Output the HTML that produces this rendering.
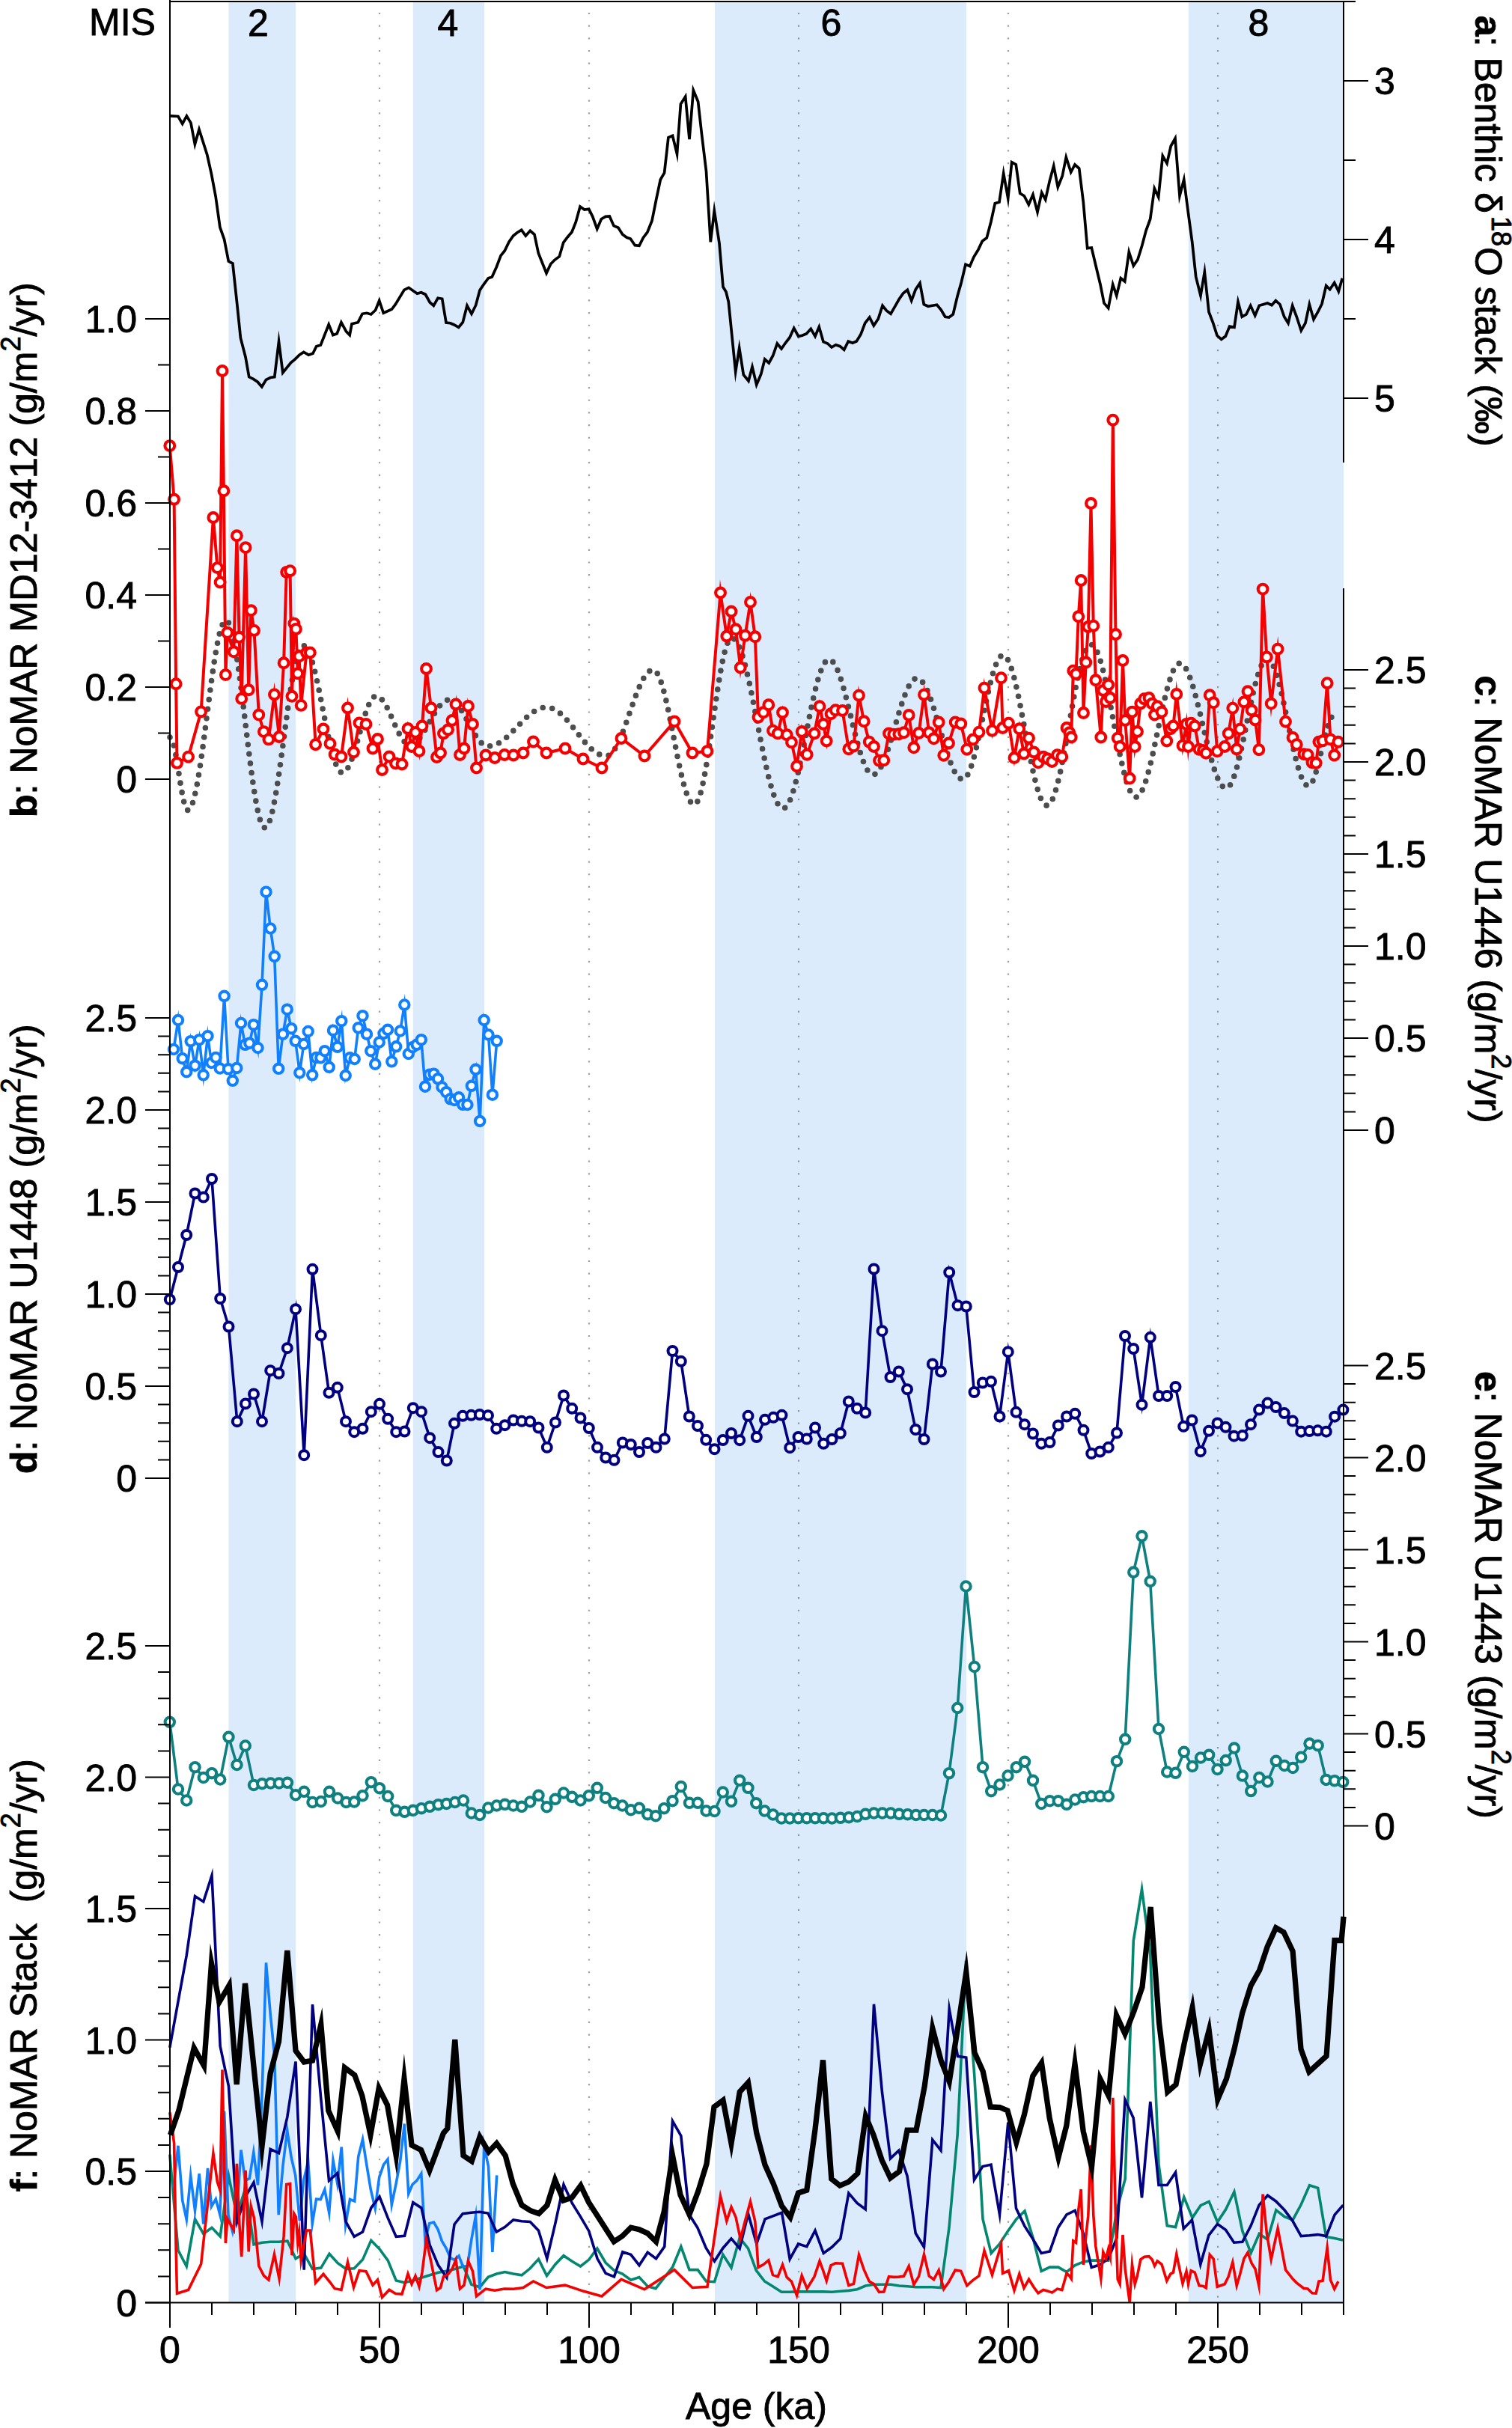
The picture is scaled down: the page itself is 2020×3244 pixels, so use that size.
<!DOCTYPE html>
<html><head><meta charset="utf-8"><style>html,body{margin:0;padding:0;background:#fff;width:2020px;height:3244px;overflow:hidden}svg{display:block;font-family:"Liberation Sans",sans-serif}</style></head>
<body><svg width="2020" height="3244" viewBox="0 0 2020 3244"><rect x="305.4" y="2" width="89.6" height="3074" fill="#dbebfc"/>
<rect x="551.8" y="2" width="95.2" height="3074" fill="#dbebfc"/>
<rect x="955.0" y="2" width="336.0" height="3074" fill="#dbebfc"/>
<rect x="1587.8" y="2" width="207.2" height="3074" fill="#dbebfc"/>
<line x1="507.0" y1="16.9" x2="507.0" y2="3076" stroke="#505050" stroke-opacity="0.55" stroke-width="2.2" stroke-dasharray="2.2 14.47"/>
<line x1="787.0" y1="16.9" x2="787.0" y2="3076" stroke="#505050" stroke-opacity="0.55" stroke-width="2.2" stroke-dasharray="2.2 14.47"/>
<line x1="1067.0" y1="16.9" x2="1067.0" y2="3076" stroke="#505050" stroke-opacity="0.55" stroke-width="2.2" stroke-dasharray="2.2 14.47"/>
<line x1="1347.0" y1="16.9" x2="1347.0" y2="3076" stroke="#505050" stroke-opacity="0.55" stroke-width="2.2" stroke-dasharray="2.2 14.47"/>
<line x1="1627.0" y1="16.9" x2="1627.0" y2="3076" stroke="#505050" stroke-opacity="0.55" stroke-width="2.2" stroke-dasharray="2.2 14.47"/>
<path d="M227.2,154.9 L238.0,155.5 L243.7,165.4 L249.4,154.9 L255.0,164.4 L260.4,192.8 L266.0,173.0 L276.8,207.0 L282.5,232.6 L288.2,263.0 L293.9,303.7 L299.6,319.8 L305.3,349.1 L310.9,352.0 L316.6,405.0 L321.4,451.5 L328.0,477.0 L332.7,503.6 L338.4,506.4 L344.1,510.2 L349.8,516.8 L355.5,507.4 L361.2,504.5 L366.8,503.6 L372.5,456.2 L377.8,497.9 L388.6,484.6 L394.3,479.9 L400.0,474.2 L405.7,470.4 L412.3,474.2 L418.0,472.3 L422.7,462.8 L428.4,460.9 L439.2,433.5 L444.9,447.7 L450.2,445.8 L455.9,430.6 L462.5,442.9 L467.2,447.7 L470.0,432.7 L478.3,430.7 L484.0,419.3 L490.0,418.3 L495.7,420.0 L501.7,414.3 L506.7,401.7 L512.3,418.3 L523.3,413.3 L528.3,406.7 L540.0,387.3 L546.0,384.3 L557.3,392.3 L562.7,390.7 L568.3,393.3 L574.3,404.0 L579.3,408.3 L585.0,398.3 L590.7,399.3 L596.0,431.0 L601.7,431.7 L606.7,434.0 L612.7,437.3 L618.3,430.7 L624.0,408.3 L630.0,419.3 L635.7,407.7 L641.0,387.7 L646.7,379.3 L652.3,371.7 L657.3,370.0 L663.3,356.7 L669.0,341.7 L674.3,335.0 L680.0,323.3 L685.7,315.0 L691.0,310.7 L696.7,307.3 L702.3,315.0 L708.3,308.3 L714.0,313.3 L719.3,338.3 L724.0,350.0 L730.0,365.0 L735.7,352.7 L741.0,347.3 L747.3,342.7 L752.7,324.0 L758.3,316.7 L764.0,310.0 L769.3,296.7 L775.0,276.0 L780.7,280.0 L786.7,279.3 L791.7,289.3 L797.7,306.0 L803.3,292.7 L809.0,289.3 L814.3,289.0 L820.0,301.7 L826.0,304.3 L831.7,313.3 L837.3,317.3 L842.3,319.0 L848.3,327.7 L854.0,328.3 L859.3,317.7 L865.0,310.0 L871.0,295.0 L876.7,266.7 L882.3,240.0 L887.6,231.0 L892.9,183.7 L898.5,181.3 L904.5,205.8 L909.4,139.0 L915.7,129.0 L921.0,186.0 L926.3,120.5 L932.6,135.7 L937.5,179.4 L943.5,229.0 L949.3,323.3 L954.3,281.7 L961.0,325.0 L966.0,383.3 L970.0,390.0 L973.3,403.3 L982.7,496.7 L987.7,465.0 L993.3,500.7 L1000.0,509.0 L1005.0,490.0 L1010.7,514.0 L1016.7,500.0 L1021.7,480.0 L1027.3,485.0 L1032.7,475.0 L1038.3,459.0 L1044.0,466.0 L1049.3,458.3 L1055.0,451.0 L1060.7,438.3 L1066.7,449.3 L1071.7,448.3 L1077.3,446.0 L1083.3,439.3 L1089.0,449.3 L1094.3,436.7 L1100.0,456.7 L1105.7,459.0 L1111.0,464.0 L1116.7,460.7 L1122.3,462.7 L1127.7,467.3 L1133.3,456.0 L1139.0,458.3 L1144.3,456.0 L1150.0,446.7 L1155.7,431.7 L1161.7,424.0 L1167.3,435.0 L1173.3,426.0 L1179.0,408.3 L1184.3,415.0 L1190.0,419.3 L1195.7,409.3 L1201.0,400.0 L1206.7,391.7 L1212.3,387.3 L1217.7,401.7 L1223.3,386.7 L1229.0,378.3 L1234.3,406.7 L1240.0,409.3 L1245.7,408.3 L1251.7,407.3 L1257.3,414.0 L1262.7,423.3 L1267.7,424.0 L1273.3,420.0 L1279.0,396.0 L1284.3,377.3 L1290.0,353.3 L1295.7,355.7 L1301.0,343.3 L1306.7,334.0 L1312.3,322.3 L1318.3,317.7 L1324.0,296.0 L1329.3,271.7 L1335.0,270.0 L1340.7,231.7 L1346.7,265.0 L1351.7,216.7 L1357.3,220.0 L1362.7,258.3 L1368.3,261.7 L1374.3,273.3 L1380.0,260.0 L1386.0,283.3 L1391.7,257.3 L1396.7,266.7 L1402.3,241.7 L1407.7,221.7 L1413.3,250.0 L1419.3,235.0 L1424.3,210.0 L1430.7,230.0 L1436.0,220.0 L1441.7,225.0 L1447.3,270.0 L1452.7,331.7 L1458.3,331.0 L1464.0,355.0 L1470.0,380.0 L1475.0,405.0 L1480.7,411.7 L1486.7,380.0 L1491.7,395.0 L1497.3,371.7 L1502.7,376.0 L1508.3,336.7 L1514.3,355.0 L1520.0,346.7 L1525.7,328.3 L1531.0,308.3 L1536.7,292.7 L1542.3,251.7 L1547.7,263.3 L1553.3,208.3 L1559.0,218.3 L1564.3,195.0 L1570.0,185.0 L1576.0,261.7 L1581.7,240.0 L1587.3,283.3 L1592.7,323.3 L1597.7,370.0 L1604.0,395.0 L1609.3,363.3 L1615.0,416.7 L1620.7,431.7 L1626.0,448.3 L1631.7,453.3 L1637.3,449.3 L1642.7,436.0 L1649.0,437.3 L1654.0,403.3 L1659.3,423.3 L1665.0,420.0 L1670.7,408.3 L1676.7,421.7 L1682.3,408.3 L1687.7,406.7 L1693.3,405.0 L1699.0,407.7 L1704.3,401.7 L1710.0,406.7 L1715.7,423.3 L1721.0,431.7 L1726.7,408.3 L1732.3,423.3 L1738.3,441.7 L1744.0,431.7 L1749.3,406.7 L1755.0,426.7 L1760.7,416.7 L1766.0,406.0 L1771.7,381.7 L1776.7,386.7 L1782.7,377.7 L1788.3,389.3 L1793.3,371.7" fill="none" stroke="#000" stroke-width="3.7" stroke-linejoin="miter" stroke-miterlimit="10"/>
<path d="M227.0,985.0 L228.0,985.4 L229.0,986.7 L230.0,988.7 L231.0,991.5 L232.0,995.1 L233.0,999.3 L234.0,1004.1 L235.0,1009.4 L236.0,1015.1 L237.0,1021.1 L238.0,1027.4 L239.0,1033.8 L240.0,1040.1 L241.0,1046.4 L242.0,1052.4 L243.0,1058.1 L244.0,1063.4 L245.0,1068.2 L246.0,1072.4 L247.0,1076.0 L248.0,1078.8 L249.0,1080.8 L250.0,1082.1 L251.0,1082.5 L252.0,1082.3 L253.0,1081.5 L254.0,1080.3 L255.0,1078.7 L256.0,1076.5 L257.0,1073.9 L258.0,1070.9 L259.0,1067.4 L260.0,1063.5 L261.0,1059.2 L262.0,1054.5 L263.0,1049.4 L264.0,1044.0 L265.0,1038.2 L266.0,1032.1 L267.0,1025.8 L268.0,1019.1 L269.0,1012.2 L270.0,1005.2 L271.0,997.9 L272.0,990.4 L273.0,982.9 L274.0,975.2 L275.0,967.4 L276.0,959.7 L277.0,951.8 L278.0,944.1 L279.0,936.3 L280.0,928.6 L281.0,921.1 L282.0,913.6 L283.0,906.3 L284.0,899.3 L285.0,892.4 L286.0,885.7 L287.0,879.4 L288.0,873.3 L289.0,867.5 L290.0,862.1 L291.0,857.0 L292.0,852.3 L293.0,848.0 L294.0,844.1 L295.0,840.6 L296.0,837.6 L297.0,835.0 L298.0,832.8 L299.0,831.2 L300.0,830.0 L301.0,829.2 L302.0,829.0 L303.0,829.3 L304.0,830.0 L305.0,831.3 L306.0,833.0 L307.0,835.3 L308.0,838.0 L309.0,841.2 L310.0,844.9 L311.0,849.0 L312.0,853.5 L313.0,858.5 L314.0,863.8 L315.0,869.6 L316.0,875.7 L317.0,882.1 L318.0,888.8 L319.0,895.8 L320.0,903.1 L321.0,910.7 L322.0,918.4 L323.0,926.3 L324.0,934.4 L325.0,942.5 L326.0,950.8 L327.0,959.1 L328.0,967.5 L329.0,975.9 L330.0,984.2 L331.0,992.5 L332.0,1000.6 L333.0,1008.7 L334.0,1016.6 L335.0,1024.3 L336.0,1031.9 L337.0,1039.2 L338.0,1046.2 L339.0,1052.9 L340.0,1059.3 L341.0,1065.4 L342.0,1071.2 L343.0,1076.5 L344.0,1081.5 L345.0,1086.0 L346.0,1090.1 L347.0,1093.8 L348.0,1097.0 L349.0,1099.7 L350.0,1102.0 L351.0,1103.7 L352.0,1105.0 L353.0,1105.7 L354.0,1106.0 L355.0,1105.8 L356.0,1105.1 L357.0,1103.9 L358.0,1102.3 L359.0,1100.3 L360.0,1097.8 L361.0,1094.9 L362.0,1091.5 L363.0,1087.8 L364.0,1083.6 L365.0,1079.1 L366.0,1074.2 L367.0,1069.0 L368.0,1063.5 L369.0,1057.6 L370.0,1051.5 L371.0,1045.1 L372.0,1038.5 L373.0,1031.7 L374.0,1024.7 L375.0,1017.6 L376.0,1010.3 L377.0,1002.9 L378.0,995.5 L379.0,988.0 L380.0,980.5 L381.0,973.0 L382.0,965.6 L383.0,958.2 L384.0,950.9 L385.0,943.8 L386.0,936.8 L387.0,930.0 L388.0,923.4 L389.0,917.0 L390.0,910.9 L391.0,905.0 L392.0,899.5 L393.0,894.3 L394.0,889.4 L395.0,884.9 L396.0,880.7 L397.0,877.0 L398.0,873.6 L399.0,870.7 L400.0,868.2 L401.0,866.2 L402.0,864.6 L403.0,863.4 L404.0,862.7 L405.0,862.5 L406.0,862.7 L407.0,863.1 L408.0,863.9 L409.0,865.0 L410.0,866.3 L411.1,868.0 L412.1,870.0 L413.1,872.2 L414.1,874.8 L415.1,877.5 L416.1,880.6 L417.1,883.9 L418.1,887.4 L419.1,891.1 L420.1,895.1 L421.2,899.2 L422.2,903.5 L423.2,908.0 L424.2,912.6 L425.2,917.4 L426.2,922.2 L427.2,927.2 L428.2,932.2 L429.2,937.3 L430.2,942.4 L431.2,947.5 L432.3,952.6 L433.3,957.7 L434.3,962.8 L435.3,967.8 L436.3,972.8 L437.3,977.6 L438.3,982.4 L439.3,987.0 L440.3,991.5 L441.3,995.8 L442.4,999.9 L443.4,1003.9 L444.4,1007.6 L445.4,1011.1 L446.4,1014.4 L447.4,1017.5 L448.4,1020.2 L449.4,1022.8 L450.4,1025.0 L451.4,1027.0 L452.5,1028.7 L453.5,1030.0 L454.5,1031.1 L455.5,1031.9 L456.5,1032.3 L457.5,1032.5 L458.5,1032.4 L459.5,1032.0 L460.5,1031.4 L461.5,1030.5 L462.5,1029.4 L463.5,1028.1 L464.5,1026.5 L465.5,1024.7 L466.5,1022.7 L467.5,1020.5 L468.5,1018.1 L469.5,1015.5 L470.5,1012.8 L471.5,1009.9 L472.5,1006.9 L473.5,1003.7 L474.5,1000.4 L475.5,997.1 L476.5,993.6 L477.5,990.1 L478.5,986.6 L479.5,983.0 L480.5,979.5 L481.5,975.9 L482.5,972.4 L483.5,968.9 L484.5,965.4 L485.5,962.1 L486.5,958.8 L487.5,955.6 L488.5,952.6 L489.5,949.7 L490.5,947.0 L491.5,944.4 L492.5,942.0 L493.5,939.8 L494.5,937.8 L495.5,936.0 L496.5,934.4 L497.5,933.1 L498.5,932.0 L499.5,931.1 L500.5,930.5 L501.5,930.1 L502.5,930.0 L503.5,930.1 L504.5,930.3 L505.5,930.7 L506.5,931.3 L507.5,932.0 L508.5,932.8 L509.5,933.8 L510.5,934.9 L511.5,936.2 L512.5,937.6 L513.5,939.1 L514.5,940.8 L515.5,942.5 L516.5,944.3 L517.5,946.2 L518.5,948.3 L519.5,950.3 L520.5,952.5 L521.5,954.6 L522.5,956.9 L523.5,959.1 L524.5,961.4 L525.5,963.6 L526.5,965.9 L527.5,968.1 L528.5,970.4 L529.5,972.5 L530.5,974.7 L531.5,976.7 L532.5,978.8 L533.5,980.7 L534.5,982.5 L535.5,984.2 L536.5,985.9 L537.5,987.4 L538.5,988.8 L539.5,990.1 L540.5,991.2 L541.5,992.2 L542.5,993.0 L543.5,993.7 L544.5,994.3 L545.5,994.7 L546.5,994.9 L547.5,995.0 L548.5,994.9 L549.5,994.8 L550.5,994.5 L551.5,994.1 L552.5,993.6 L553.6,993.1 L554.6,992.4 L555.6,991.6 L556.6,990.7 L557.6,989.7 L558.6,988.6 L559.6,987.5 L560.6,986.2 L561.6,984.9 L562.6,983.5 L563.7,982.0 L564.7,980.5 L565.7,978.9 L566.7,977.3 L567.7,975.6 L568.7,973.9 L569.7,972.2 L570.7,970.4 L571.7,968.6 L572.7,966.8 L573.8,965.0 L574.8,963.2 L575.8,961.4 L576.8,959.6 L577.8,957.8 L578.8,956.1 L579.8,954.4 L580.8,952.7 L581.8,951.1 L582.8,949.5 L583.8,948.0 L584.9,946.5 L585.9,945.1 L586.9,943.8 L587.9,942.5 L588.9,941.4 L589.9,940.3 L590.9,939.3 L591.9,938.4 L592.9,937.6 L593.9,936.9 L595.0,936.4 L596.0,935.9 L597.0,935.5 L598.0,935.2 L599.0,935.1 L600.0,935.0 L601.0,935.1 L602.0,935.2 L603.0,935.5 L604.0,935.9 L605.0,936.4 L606.0,937.0 L607.0,937.7 L608.0,938.6 L609.0,939.5 L610.0,940.5 L611.0,941.6 L612.0,942.8 L613.0,944.1 L614.0,945.4 L615.0,946.9 L616.0,948.4 L617.0,950.0 L618.0,951.6 L619.0,953.3 L620.0,955.0 L621.0,956.8 L622.0,958.6 L623.0,960.4 L624.0,962.3 L625.0,964.1 L626.0,966.0 L627.0,967.9 L628.0,969.7 L629.0,971.6 L630.0,973.4 L631.0,975.2 L632.0,977.0 L633.0,978.7 L634.0,980.4 L635.0,982.0 L636.0,983.6 L637.0,985.1 L638.0,986.6 L639.0,987.9 L640.0,989.2 L641.0,990.4 L642.0,991.5 L643.0,992.5 L644.0,993.4 L645.0,994.3 L646.0,995.0 L647.0,995.6 L648.0,996.1 L649.0,996.5 L650.0,996.8 L651.0,996.9 L652.0,997.0 L653.0,997.0 L654.0,996.9 L655.0,996.8 L656.0,996.7 L657.0,996.5 L658.0,996.2 L659.0,996.0 L660.0,995.7 L661.0,995.3 L662.0,994.9 L663.0,994.5 L664.0,994.0 L665.0,993.5 L666.0,993.0 L667.0,992.4 L668.0,991.8 L669.0,991.1 L670.0,990.5 L671.0,989.8 L672.0,989.0 L673.0,988.2 L674.0,987.4 L675.0,986.6 L676.0,985.8 L677.0,984.9 L678.0,984.0 L679.0,983.1 L680.0,982.1 L681.0,981.2 L682.0,980.2 L683.0,979.2 L684.0,978.2 L685.0,977.2 L686.0,976.2 L687.0,975.2 L688.0,974.1 L689.0,973.1 L690.0,972.0 L691.0,971.0 L692.0,970.0 L693.0,968.9 L694.0,967.9 L695.0,966.8 L696.0,965.8 L697.0,964.8 L698.0,963.8 L699.0,962.8 L700.0,961.8 L701.0,960.8 L702.0,959.9 L703.0,958.9 L704.0,958.0 L705.0,957.1 L706.0,956.2 L707.0,955.4 L708.0,954.6 L709.0,953.8 L710.0,953.0 L711.0,952.2 L712.0,951.5 L713.0,950.9 L714.0,950.2 L715.0,949.6 L716.0,949.0 L717.0,948.5 L718.0,948.0 L719.0,947.5 L720.0,947.1 L721.0,946.7 L722.0,946.3 L723.0,946.0 L724.0,945.8 L725.0,945.5 L726.0,945.3 L727.0,945.2 L728.0,945.1 L729.0,945.0 L730.0,945.0 L731.0,945.0 L732.0,945.1 L733.0,945.2 L734.0,945.4 L735.0,945.6 L736.0,945.9 L737.0,946.2 L738.0,946.6 L739.0,947.0 L740.0,947.5 L741.0,948.0 L742.0,948.5 L743.0,949.1 L744.0,949.8 L745.0,950.5 L746.0,951.2 L747.0,952.0 L748.0,952.8 L749.0,953.6 L750.0,954.5 L751.0,955.4 L752.0,956.4 L753.0,957.4 L754.0,958.4 L755.0,959.4 L756.0,960.5 L757.0,961.6 L758.0,962.7 L759.0,963.9 L760.0,965.1 L761.0,966.3 L762.0,967.5 L763.0,968.7 L764.0,969.9 L765.0,971.2 L766.0,972.4 L767.0,973.7 L768.0,975.0 L769.0,976.2 L770.0,977.5 L771.0,978.8 L772.0,980.0 L773.0,981.3 L774.0,982.6 L775.0,983.8 L776.0,985.1 L777.0,986.3 L778.0,987.5 L779.0,988.7 L780.0,989.9 L781.0,991.1 L782.0,992.3 L783.0,993.4 L784.0,994.5 L785.0,995.6 L786.0,996.6 L787.0,997.6 L788.0,998.6 L789.0,999.6 L790.0,1000.5 L791.0,1001.4 L792.0,1002.2 L793.0,1003.0 L794.0,1003.8 L795.0,1004.5 L796.0,1005.2 L797.0,1005.9 L798.0,1006.5 L799.0,1007.0 L800.0,1007.5 L801.0,1008.0 L802.0,1008.4 L803.0,1008.8 L804.0,1009.1 L805.0,1009.4 L806.0,1009.6 L807.0,1009.8 L808.0,1009.9 L809.0,1010.0 L810.0,1010.0 L811.0,1009.9 L812.0,1009.7 L813.0,1009.3 L814.0,1008.8 L815.0,1008.2 L816.0,1007.4 L817.1,1006.4 L818.1,1005.3 L819.1,1004.1 L820.1,1002.8 L821.1,1001.3 L822.1,999.7 L823.1,998.0 L824.1,996.1 L825.1,994.2 L826.1,992.1 L827.1,990.0 L828.1,987.7 L829.2,985.3 L830.2,982.9 L831.2,980.4 L832.2,977.8 L833.2,975.2 L834.2,972.5 L835.2,969.7 L836.2,966.9 L837.2,964.1 L838.2,961.2 L839.2,958.3 L840.2,955.4 L841.2,952.5 L842.3,949.6 L843.3,946.7 L844.3,943.8 L845.3,940.9 L846.3,938.1 L847.3,935.3 L848.3,932.5 L849.3,929.8 L850.3,927.2 L851.3,924.6 L852.3,922.1 L853.3,919.7 L854.4,917.3 L855.4,915.0 L856.4,912.9 L857.4,910.8 L858.4,908.9 L859.4,907.0 L860.4,905.3 L861.4,903.7 L862.4,902.2 L863.4,900.9 L864.4,899.7 L865.4,898.6 L866.5,897.6 L867.5,896.8 L868.5,896.2 L869.5,895.7 L870.5,895.3 L871.5,895.1 L872.5,895.0 L873.5,895.1 L874.5,895.6 L875.5,896.3 L876.5,897.3 L877.5,898.6 L878.5,900.2 L879.5,902.1 L880.5,904.2 L881.5,906.6 L882.5,909.3 L883.5,912.2 L884.5,915.3 L885.5,918.7 L886.5,922.3 L887.5,926.1 L888.5,930.0 L889.5,934.2 L890.5,938.5 L891.5,943.0 L892.5,947.6 L893.5,952.3 L894.5,957.2 L895.5,962.1 L896.5,967.1 L897.5,972.2 L898.5,977.3 L899.5,982.4 L900.5,987.6 L901.5,992.7 L902.5,997.8 L903.5,1002.9 L904.5,1007.9 L905.5,1012.8 L906.5,1017.7 L907.5,1022.4 L908.5,1027.0 L909.5,1031.5 L910.5,1035.8 L911.5,1040.0 L912.5,1043.9 L913.5,1047.7 L914.5,1051.3 L915.5,1054.7 L916.5,1057.8 L917.5,1060.7 L918.5,1063.4 L919.5,1065.8 L920.5,1067.9 L921.5,1069.8 L922.5,1071.4 L923.5,1072.7 L924.5,1073.7 L925.5,1074.4 L926.5,1074.9 L927.5,1075.0 L928.5,1074.8 L929.5,1074.1 L930.5,1073.0 L931.5,1071.5 L932.5,1069.6 L933.5,1067.2 L934.5,1064.4 L935.5,1061.2 L936.5,1057.7 L937.5,1053.8 L938.5,1049.5 L939.5,1044.8 L940.5,1039.9 L941.5,1034.7 L942.5,1029.1 L943.5,1023.4 L944.5,1017.3 L945.5,1011.1 L946.5,1004.7 L947.5,998.1 L948.5,991.4 L949.5,984.6 L950.5,977.7 L951.5,970.7 L952.5,963.8 L953.5,956.8 L954.5,949.8 L955.5,942.9 L956.5,936.1 L957.5,929.4 L958.5,922.8 L959.5,916.4 L960.5,910.2 L961.5,904.1 L962.5,898.4 L963.5,892.8 L964.5,887.6 L965.5,882.7 L966.5,878.0 L967.5,873.7 L968.5,869.8 L969.5,866.3 L970.5,863.1 L971.5,860.3 L972.5,857.9 L973.5,856.0 L974.5,854.5 L975.5,853.4 L976.5,852.7 L977.5,852.5 L978.5,852.6 L979.5,853.0 L980.5,853.6 L981.5,854.4 L982.6,855.5 L983.6,856.8 L984.6,858.4 L985.6,860.2 L986.6,862.2 L987.6,864.4 L988.6,866.9 L989.6,869.5 L990.6,872.4 L991.7,875.5 L992.7,878.7 L993.7,882.2 L994.7,885.8 L995.7,889.6 L996.7,893.6 L997.7,897.7 L998.7,902.0 L999.7,906.4 L1000.8,910.9 L1001.8,915.5 L1002.8,920.3 L1003.8,925.2 L1004.8,930.1 L1005.8,935.1 L1006.8,940.2 L1007.8,945.3 L1008.8,950.5 L1009.9,955.8 L1010.9,961.0 L1011.9,966.2 L1012.9,971.5 L1013.9,976.7 L1014.9,982.0 L1015.9,987.2 L1016.9,992.3 L1017.9,997.4 L1019.0,1002.4 L1020.0,1007.3 L1021.0,1012.2 L1022.0,1017.0 L1023.0,1021.6 L1024.0,1026.1 L1025.0,1030.5 L1026.0,1034.8 L1027.0,1038.9 L1028.1,1042.9 L1029.1,1046.7 L1030.1,1050.3 L1031.1,1053.8 L1032.1,1057.0 L1033.1,1060.1 L1034.1,1063.0 L1035.1,1065.6 L1036.1,1068.1 L1037.2,1070.3 L1038.2,1072.3 L1039.2,1074.1 L1040.2,1075.7 L1041.2,1077.0 L1042.2,1078.1 L1043.2,1078.9 L1044.2,1079.5 L1045.2,1079.9 L1046.2,1080.0 L1047.3,1079.9 L1048.3,1079.5 L1049.3,1078.8 L1050.3,1077.9 L1051.3,1076.7 L1052.3,1075.3 L1053.3,1073.6 L1054.3,1071.7 L1055.3,1069.5 L1056.3,1067.1 L1057.3,1064.5 L1058.3,1061.6 L1059.3,1058.5 L1060.3,1055.3 L1061.3,1051.8 L1062.3,1048.1 L1063.3,1044.3 L1064.3,1040.3 L1065.3,1036.1 L1066.3,1031.8 L1067.3,1027.3 L1068.3,1022.8 L1069.3,1018.1 L1070.3,1013.3 L1071.4,1008.4 L1072.4,1003.5 L1073.4,998.4 L1074.4,993.4 L1075.4,988.3 L1076.4,983.2 L1077.4,978.1 L1078.4,973.0 L1079.4,967.9 L1080.4,962.8 L1081.4,957.8 L1082.4,952.9 L1083.4,948.0 L1084.4,943.2 L1085.4,938.5 L1086.4,933.9 L1087.4,929.5 L1088.4,925.1 L1089.4,921.0 L1090.4,917.0 L1091.4,913.1 L1092.4,909.5 L1093.4,906.0 L1094.4,902.7 L1095.5,899.6 L1096.5,896.8 L1097.5,894.1 L1098.5,891.7 L1099.5,889.6 L1100.5,887.6 L1101.5,886.0 L1102.5,884.5 L1103.5,883.4 L1104.5,882.4 L1105.5,881.8 L1106.5,881.4 L1107.5,881.2 L1108.5,881.4 L1109.5,881.7 L1110.5,882.3 L1111.6,883.0 L1112.6,884.1 L1113.6,885.3 L1114.6,886.7 L1115.6,888.4 L1116.6,890.2 L1117.6,892.3 L1118.6,894.5 L1119.7,896.9 L1120.7,899.5 L1121.7,902.3 L1122.7,905.3 L1123.7,908.4 L1124.7,911.6 L1125.7,915.0 L1126.7,918.5 L1127.8,922.1 L1128.8,925.8 L1129.8,929.7 L1130.8,933.6 L1131.8,937.6 L1132.8,941.6 L1133.8,945.7 L1134.8,949.8 L1135.9,954.0 L1136.9,958.1 L1137.9,962.3 L1138.9,966.4 L1139.9,970.6 L1140.9,974.7 L1141.9,978.7 L1143.0,982.7 L1144.0,986.6 L1145.0,990.4 L1146.0,994.1 L1147.0,997.8 L1148.0,1001.3 L1149.0,1004.6 L1150.0,1007.9 L1151.1,1011.0 L1152.1,1013.9 L1153.1,1016.7 L1154.1,1019.3 L1155.1,1021.8 L1156.1,1024.0 L1157.1,1026.0 L1158.1,1027.9 L1159.2,1029.5 L1160.2,1031.0 L1161.2,1032.2 L1162.2,1033.2 L1163.2,1034.0 L1164.2,1034.5 L1165.2,1034.9 L1166.2,1035.0 L1167.3,1034.9 L1168.3,1034.6 L1169.3,1034.2 L1170.3,1033.5 L1171.3,1032.7 L1172.3,1031.6 L1173.3,1030.4 L1174.4,1029.1 L1175.4,1027.5 L1176.4,1025.8 L1177.4,1023.9 L1178.4,1021.9 L1179.4,1019.7 L1180.4,1017.4 L1181.4,1014.9 L1182.5,1012.3 L1183.5,1009.6 L1184.5,1006.8 L1185.5,1003.8 L1186.5,1000.8 L1187.5,997.7 L1188.5,994.5 L1189.5,991.2 L1190.6,987.8 L1191.6,984.5 L1192.6,981.0 L1193.6,977.6 L1194.6,974.1 L1195.6,970.6 L1196.6,967.1 L1197.7,963.7 L1198.7,960.2 L1199.7,956.8 L1200.7,953.4 L1201.7,950.1 L1202.7,946.8 L1203.7,943.6 L1204.7,940.5 L1205.8,937.4 L1206.8,934.5 L1207.8,931.7 L1208.8,928.9 L1209.8,926.4 L1210.8,923.9 L1211.8,921.6 L1212.8,919.4 L1213.9,917.3 L1214.9,915.5 L1215.9,913.7 L1216.9,912.2 L1217.9,910.8 L1218.9,909.6 L1219.9,908.6 L1220.9,907.8 L1222.0,907.1 L1223.0,906.6 L1224.0,906.3 L1225.0,906.2 L1226.0,906.3 L1227.0,906.6 L1228.0,907.1 L1229.0,907.7 L1230.0,908.5 L1231.0,909.4 L1232.0,910.6 L1233.0,911.9 L1234.0,913.4 L1235.0,915.0 L1236.0,916.8 L1237.0,918.7 L1238.1,920.8 L1239.1,923.0 L1240.1,925.4 L1241.1,927.9 L1242.1,930.5 L1243.1,933.2 L1244.1,936.1 L1245.1,939.0 L1246.1,942.0 L1247.1,945.1 L1248.1,948.3 L1249.1,951.6 L1250.1,954.9 L1251.1,958.2 L1252.1,961.6 L1253.1,965.1 L1254.1,968.5 L1255.1,972.0 L1256.1,975.5 L1257.1,979.0 L1258.1,982.4 L1259.1,985.9 L1260.1,989.3 L1261.1,992.6 L1262.2,995.9 L1263.2,999.2 L1264.2,1002.4 L1265.2,1005.5 L1266.2,1008.5 L1267.2,1011.4 L1268.2,1014.3 L1269.2,1017.0 L1270.2,1019.6 L1271.2,1022.1 L1272.2,1024.5 L1273.2,1026.7 L1274.2,1028.8 L1275.2,1030.7 L1276.2,1032.5 L1277.2,1034.1 L1278.2,1035.6 L1279.2,1036.9 L1280.2,1038.1 L1281.2,1039.0 L1282.2,1039.8 L1283.2,1040.4 L1284.2,1040.9 L1285.2,1041.2 L1286.2,1041.2 L1287.3,1041.1 L1288.3,1040.7 L1289.3,1039.9 L1290.3,1038.9 L1291.3,1037.6 L1292.3,1036.1 L1293.3,1034.2 L1294.4,1032.1 L1295.4,1029.7 L1296.4,1027.1 L1297.4,1024.2 L1298.4,1021.2 L1299.4,1017.8 L1300.4,1014.3 L1301.5,1010.6 L1302.5,1006.7 L1303.5,1002.6 L1304.5,998.4 L1305.5,994.0 L1306.5,989.5 L1307.5,984.9 L1308.6,980.2 L1309.6,975.4 L1310.6,970.6 L1311.6,965.7 L1312.6,960.8 L1313.6,955.9 L1314.6,951.0 L1315.7,946.1 L1316.7,941.3 L1317.7,936.5 L1318.7,931.8 L1319.7,927.2 L1320.7,922.7 L1321.7,918.4 L1322.8,914.1 L1323.8,910.1 L1324.8,906.2 L1325.8,902.4 L1326.8,898.9 L1327.8,895.6 L1328.8,892.5 L1329.9,889.6 L1330.9,887.0 L1331.9,884.6 L1332.9,882.5 L1333.9,880.7 L1334.9,879.1 L1335.9,877.8 L1337.0,876.8 L1338.0,876.1 L1339.0,875.6 L1340.0,875.5 L1341.0,875.6 L1342.0,876.1 L1343.0,876.8 L1344.1,877.8 L1345.1,879.2 L1346.1,880.8 L1347.1,882.6 L1348.1,884.8 L1349.1,887.2 L1350.1,889.9 L1351.1,892.8 L1352.2,896.0 L1353.2,899.4 L1354.2,903.0 L1355.2,906.8 L1356.2,910.9 L1357.2,915.1 L1358.2,919.5 L1359.2,924.1 L1360.3,928.9 L1361.3,933.7 L1362.3,938.7 L1363.3,943.8 L1364.3,949.0 L1365.3,954.3 L1366.3,959.6 L1367.3,965.0 L1368.4,970.4 L1369.4,975.9 L1370.4,981.3 L1371.4,986.7 L1372.4,992.1 L1373.4,997.5 L1374.4,1002.7 L1375.5,1007.9 L1376.5,1013.0 L1377.5,1018.0 L1378.5,1022.9 L1379.5,1027.6 L1380.5,1032.2 L1381.5,1036.6 L1382.5,1040.9 L1383.6,1044.9 L1384.6,1048.7 L1385.6,1052.4 L1386.6,1055.8 L1387.6,1059.0 L1388.6,1061.9 L1389.6,1064.6 L1390.6,1067.0 L1391.7,1069.1 L1392.7,1071.0 L1393.7,1072.6 L1394.7,1073.9 L1395.7,1074.9 L1396.7,1075.7 L1397.7,1076.1 L1398.8,1076.2 L1399.8,1076.1 L1400.8,1075.6 L1401.8,1074.8 L1402.8,1073.7 L1403.8,1072.3 L1404.8,1070.6 L1405.8,1068.6 L1406.9,1066.3 L1407.9,1063.7 L1408.9,1060.9 L1409.9,1057.7 L1410.9,1054.3 L1411.9,1050.7 L1412.9,1046.8 L1413.9,1042.7 L1415.0,1038.3 L1416.0,1033.8 L1417.0,1029.1 L1418.0,1024.2 L1419.0,1019.1 L1420.0,1013.9 L1421.0,1008.5 L1422.0,1003.1 L1423.1,997.5 L1424.1,991.9 L1425.1,986.1 L1426.1,980.4 L1427.1,974.6 L1428.1,968.8 L1429.1,962.9 L1430.2,957.1 L1431.2,951.4 L1432.2,945.6 L1433.2,940.0 L1434.2,934.4 L1435.2,929.0 L1436.2,923.6 L1437.2,918.4 L1438.3,913.3 L1439.3,908.4 L1440.3,903.7 L1441.3,899.2 L1442.3,894.8 L1443.3,890.7 L1444.3,886.8 L1445.3,883.2 L1446.4,879.8 L1447.4,876.6 L1448.4,873.8 L1449.4,871.2 L1450.4,868.9 L1451.4,866.9 L1452.4,865.2 L1453.4,863.8 L1454.5,862.7 L1455.5,861.9 L1456.5,861.4 L1457.5,861.2 L1458.5,861.4 L1459.5,861.8 L1460.5,862.5 L1461.5,863.5 L1462.5,864.7 L1463.5,866.2 L1464.5,868.0 L1465.5,870.1 L1466.5,872.4 L1467.5,874.9 L1468.5,877.7 L1469.5,880.7 L1470.5,884.0 L1471.5,887.4 L1472.5,891.1 L1473.5,895.0 L1474.5,899.0 L1475.5,903.2 L1476.5,907.6 L1477.5,912.2 L1478.5,916.9 L1479.5,921.7 L1480.5,926.6 L1481.5,931.6 L1482.5,936.8 L1483.5,941.9 L1484.5,947.2 L1485.5,952.5 L1486.5,957.8 L1487.5,963.1 L1488.5,968.5 L1489.5,973.8 L1490.5,979.1 L1491.5,984.3 L1492.5,989.5 L1493.5,994.6 L1494.5,999.6 L1495.5,1004.6 L1496.5,1009.4 L1497.5,1014.1 L1498.5,1018.6 L1499.5,1023.0 L1500.5,1027.2 L1501.5,1031.3 L1502.5,1035.2 L1503.5,1038.8 L1504.5,1042.3 L1505.5,1045.5 L1506.5,1048.6 L1507.5,1051.4 L1508.5,1053.9 L1509.5,1056.2 L1510.5,1058.2 L1511.5,1060.0 L1512.5,1061.5 L1513.5,1062.8 L1514.5,1063.7 L1515.5,1064.4 L1516.5,1064.9 L1517.5,1065.0 L1518.5,1064.9 L1519.5,1064.5 L1520.5,1063.8 L1521.6,1062.9 L1522.6,1061.7 L1523.6,1060.3 L1524.6,1058.7 L1525.6,1056.7 L1526.6,1054.6 L1527.6,1052.2 L1528.6,1049.6 L1529.7,1046.8 L1530.7,1043.7 L1531.7,1040.5 L1532.7,1037.1 L1533.7,1033.5 L1534.7,1029.7 L1535.7,1025.8 L1536.7,1021.7 L1537.8,1017.5 L1538.8,1013.2 L1539.8,1008.7 L1540.8,1004.2 L1541.8,999.5 L1542.8,994.8 L1543.8,990.1 L1544.8,985.3 L1545.9,980.5 L1546.9,975.6 L1547.9,970.8 L1548.9,966.0 L1549.9,961.2 L1550.9,956.4 L1551.9,951.7 L1553.0,947.1 L1554.0,942.5 L1555.0,938.1 L1556.0,933.8 L1557.0,929.5 L1558.0,925.5 L1559.0,921.5 L1560.0,917.8 L1561.1,914.2 L1562.1,910.7 L1563.1,907.5 L1564.1,904.5 L1565.1,901.7 L1566.1,899.0 L1567.1,896.7 L1568.1,894.5 L1569.2,892.6 L1570.2,890.9 L1571.2,889.5 L1572.2,888.3 L1573.2,887.4 L1574.2,886.8 L1575.2,886.4 L1576.2,886.2 L1577.3,886.4 L1578.3,886.7 L1579.3,887.2 L1580.3,888.0 L1581.3,889.0 L1582.3,890.2 L1583.3,891.6 L1584.3,893.2 L1585.4,895.0 L1586.4,897.1 L1587.4,899.3 L1588.4,901.7 L1589.4,904.2 L1590.4,907.0 L1591.4,909.9 L1592.4,913.0 L1593.5,916.2 L1594.5,919.6 L1595.5,923.1 L1596.5,926.7 L1597.5,930.4 L1598.5,934.3 L1599.5,938.2 L1600.5,942.2 L1601.6,946.3 L1602.6,950.5 L1603.6,954.7 L1604.6,958.9 L1605.6,963.2 L1606.6,967.5 L1607.6,971.8 L1608.6,976.1 L1609.7,980.3 L1610.7,984.6 L1611.7,988.8 L1612.7,992.9 L1613.7,997.0 L1614.7,1001.0 L1615.7,1005.0 L1616.7,1008.8 L1617.8,1012.5 L1618.8,1016.2 L1619.8,1019.7 L1620.8,1023.0 L1621.8,1026.3 L1622.8,1029.3 L1623.8,1032.3 L1624.8,1035.0 L1625.9,1037.6 L1626.9,1040.0 L1627.9,1042.2 L1628.9,1044.2 L1629.9,1046.0 L1630.9,1047.6 L1631.9,1049.1 L1632.9,1050.3 L1634.0,1051.2 L1635.0,1052.0 L1636.0,1052.6 L1637.0,1052.9 L1638.0,1053.0 L1639.0,1052.9 L1640.0,1052.4 L1641.0,1051.7 L1642.0,1050.8 L1643.0,1049.5 L1644.0,1048.0 L1645.0,1046.2 L1646.0,1044.2 L1647.0,1041.9 L1648.0,1039.3 L1649.0,1036.6 L1650.0,1033.6 L1651.0,1030.3 L1652.0,1026.9 L1653.0,1023.3 L1654.0,1019.5 L1655.0,1015.5 L1656.0,1011.4 L1657.0,1007.1 L1658.0,1002.7 L1659.0,998.1 L1660.0,993.5 L1661.0,988.8 L1662.0,984.0 L1663.0,979.2 L1664.0,974.3 L1665.0,969.4 L1666.0,964.4 L1667.0,959.5 L1668.0,954.6 L1669.0,949.8 L1670.0,945.0 L1671.0,940.3 L1672.0,935.7 L1673.0,931.1 L1674.0,926.7 L1675.0,922.4 L1676.0,918.3 L1677.0,914.3 L1678.0,910.5 L1679.0,906.9 L1680.0,903.5 L1681.0,900.2 L1682.0,897.2 L1683.0,894.5 L1684.0,891.9 L1685.0,889.6 L1686.0,887.6 L1687.0,885.8 L1688.0,884.3 L1689.0,883.0 L1690.0,882.1 L1691.0,881.4 L1692.0,880.9 L1693.0,880.8 L1694.0,880.9 L1695.0,881.4 L1696.0,882.0 L1697.0,883.0 L1698.0,884.2 L1699.0,885.7 L1700.0,887.5 L1701.0,889.5 L1702.0,891.7 L1703.0,894.2 L1704.0,897.0 L1705.0,899.9 L1706.0,903.1 L1707.0,906.4 L1708.0,910.0 L1709.0,913.7 L1710.0,917.6 L1711.0,921.7 L1712.0,925.9 L1713.0,930.3 L1714.0,934.7 L1715.0,939.3 L1716.0,943.9 L1717.0,948.6 L1718.0,953.4 L1719.0,958.2 L1720.0,963.0 L1721.0,967.8 L1722.0,972.6 L1723.0,977.4 L1724.0,982.2 L1725.0,986.9 L1726.0,991.5 L1727.0,996.1 L1728.0,1000.5 L1729.0,1004.9 L1730.0,1009.1 L1731.0,1013.2 L1732.0,1017.1 L1733.0,1020.8 L1734.0,1024.4 L1735.0,1027.7 L1736.0,1030.9 L1737.0,1033.8 L1738.0,1036.6 L1739.0,1039.1 L1740.0,1041.3 L1741.0,1043.3 L1742.0,1045.1 L1743.0,1046.6 L1744.0,1047.8 L1745.0,1048.8 L1746.0,1049.4 L1747.0,1049.9 L1748.0,1050.0 L1749.0,1049.8 L1750.0,1049.2 L1751.0,1048.3 L1752.0,1047.0 L1753.0,1045.3 L1754.0,1043.3 L1755.0,1040.9 L1756.0,1038.3 L1757.0,1035.3 L1758.0,1032.1 L1759.0,1028.7 L1760.0,1025.0 L1761.0,1021.2 L1762.0,1017.2 L1763.0,1013.1 L1764.0,1008.9 L1765.0,1004.6 L1766.0,1000.4 L1767.0,996.1 L1768.0,991.9 L1769.0,987.8 L1770.0,983.8 L1771.0,980.0 L1772.0,976.3 L1773.0,972.9 L1774.0,969.7 L1775.0,966.7 L1776.0,964.1 L1777.0,961.7 L1778.0,959.7 L1779.0,958.0 L1780.0,956.7 L1781.0,955.8 L1782.0,955.2 L1783.0,955.0" fill="none" stroke="#4d4d4d" stroke-width="7.6" stroke-linecap="round" stroke-dasharray="0 12.7" stroke-linejoin="round"/>
<path d="M226.8,595.6 L232.6,667.2 L235.1,913.8 L236.5,1019.4 L251.6,1011.2 L268.6,950.9 L284.9,691.5 L290.4,758.6 L294.1,778.0 L297.0,495.5 L298.9,655.8 L301.4,901.6 L303.8,845.3 L312.3,870.8 L316.4,715.8 L319.6,851.3 L322.7,933.4 L328.1,731.6 L332.2,921.8 L335.4,815.6 L339.5,842.4 L345.8,955.1 L352.4,977.6 L358.9,987.9 L366.5,927.9 L373.0,984.5 L379.1,885.8 L382.7,764.4 L387.6,762.7 L390.0,930.3 L392.9,833.1 L395.4,840.4 L397.8,899.9 L399.7,876.8 L402.2,942.4 L409.5,872.0 L414.3,872.0 L421.6,994.7 L432.0,974.0 L441.0,993.4 L447.1,1008.0 L456.0,1011.0 L464.5,946.0 L472.5,1005.0 L480.0,966.0 L489.0,967.5 L498.0,1000.0 L504.5,987.5 L510.5,1028.5 L520.0,1011.0 L528.5,1020.0 L537.0,1021.0 L545.0,973.5 L550.0,997.5 L555.0,978.5 L560.0,1003.5 L564.0,970.0 L569.5,893.5 L576.0,946.0 L583.5,1011.5 L588.5,1006.0 L592.5,980.0 L598.5,975.0 L604.0,962.5 L609.0,941.0 L614.5,1008.5 L620.0,1000.0 L625.5,943.5 L631.5,967.5 L636.5,1026.0 L649.0,1009.0 L661.0,1012.5 L674.0,1008.5 L686.0,1009.0 L699.0,1006.0 L712.5,991.0 L730.0,1006.0 L755.0,1000.0 L779.0,1014.0 L804.0,1026.0 L830.0,986.5 L861.0,1010.0 L901.0,964.0 L925.0,1006.0 L945.0,1003.6 L962.5,792.0 L970.8,850.0 L977.0,817.0 L983.0,840.8 L989.2,892.0 L995.5,849.2 L1002.5,804.5 L1008.8,850.8 L1013.0,958.2 L1020.0,951.8 L1026.8,941.8 L1032.5,976.2 L1039.2,980.0 L1045.5,952.0 L1051.2,981.8 L1057.5,991.8 L1064.5,1023.8 L1071.2,977.5 L1078.2,1008.2 L1088.0,980.0 L1095.0,943.8 L1100.0,967.5 L1104.2,990.0 L1110.0,953.8 L1116.2,948.8 L1125.5,949.5 L1133.8,1000.8 L1140.5,997.0 L1147.5,929.2 L1154.2,963.8 L1161.2,991.2 L1167.5,997.5 L1174.5,1016.2 L1180.8,1015.8 L1187.5,980.0 L1193.8,981.2 L1200.8,980.8 L1207.5,978.8 L1214.2,955.5 L1220.8,998.8 L1227.5,979.5 L1234.5,928.2 L1241.2,978.8 L1247.5,986.8 L1254.2,965.0 L1260.8,1009.2 L1267.5,993.0 L1276.2,965.0 L1283.8,967.0 L1291.8,1001.2 L1300.0,988.0 L1308.0,978.2 L1315.0,919.2 L1325.5,976.2 L1337.5,905.8 L1339.5,972.5 L1347.5,966.2 L1355.0,1012.5 L1361.8,973.8 L1368.0,1007.0 L1374.5,986.2 L1381.2,1005.0 L1387.0,1018.8 L1393.8,1011.2 L1399.5,1013.8 L1405.5,1017.5 L1412.5,1008.8 L1418.8,1011.2 L1425.0,972.5 L1428.8,978.8 L1431.2,985.0 L1433.8,896.2 L1437.5,900.5 L1440.8,823.8 L1444.2,775.5 L1447.5,952.5 L1450.8,885.0 L1453.8,837.5 L1457.5,672.5 L1460.8,836.2 L1463.8,908.8 L1470.8,985.0 L1473.8,922.5 L1477.5,937.5 L1480.8,915.0 L1483.2,932.5 L1486.8,561.2 L1490.5,847.5 L1493.2,986.2 L1496.2,997.5 L1500.0,882.5 L1503.2,962.5 L1509.2,1040.0 L1512.5,951.2 L1516.2,997.5 L1519.5,977.5 L1523.8,940.0 L1528.8,933.8 L1535.0,932.5 L1539.2,940.0 L1542.5,955.0 L1546.2,943.8 L1552.0,951.2 L1558.8,990.0 L1563.8,973.8 L1567.5,970.0 L1571.8,927.5 L1580.0,996.2 L1585.0,967.5 L1587.5,997.5 L1591.2,966.2 L1596.2,970.0 L1602.0,1001.2 L1607.5,1002.5 L1611.2,1006.2 L1616.2,928.8 L1621.2,938.8 L1626.2,1003.8 L1636.2,997.5 L1641.2,980.0 L1646.8,946.2 L1652.2,1001.0 L1656.7,974.2 L1661.9,937.9 L1667.0,923.8 L1672.2,949.0 L1677.0,962.0 L1681.9,1001.7 L1687.1,787.1 L1692.3,877.9 L1698.2,940.1 L1707.1,867.2 L1717.5,964.2 L1727.1,985.4 L1732.3,994.7 L1741.9,1007.6 L1747.1,1008.4 L1753.0,1018.7 L1758.2,1019.5 L1761.9,991.3 L1767.1,989.8 L1773.1,912.7 L1777.5,987.9 L1782.7,1009.1 L1787.9,991.3" fill="none" stroke="#f50000" stroke-width="4.0" stroke-linejoin="miter" stroke-miterlimit="10"/>
<g fill="#fff" stroke="#f50000" stroke-width="4.1"><circle cx="226.8" cy="595.6" r="6.4"/><circle cx="232.6" cy="667.2" r="6.4"/><circle cx="235.1" cy="913.8" r="6.4"/><circle cx="236.5" cy="1019.4" r="6.4"/><circle cx="251.6" cy="1011.2" r="6.4"/><circle cx="268.6" cy="950.9" r="6.4"/><circle cx="284.9" cy="691.5" r="6.4"/><circle cx="290.4" cy="758.6" r="6.4"/><circle cx="294.1" cy="778.0" r="6.4"/><circle cx="297.0" cy="495.5" r="6.4"/><circle cx="298.9" cy="655.8" r="6.4"/><circle cx="301.4" cy="901.6" r="6.4"/><circle cx="303.8" cy="845.3" r="6.4"/><circle cx="312.3" cy="870.8" r="6.4"/><circle cx="316.4" cy="715.8" r="6.4"/><circle cx="319.6" cy="851.3" r="6.4"/><circle cx="322.7" cy="933.4" r="6.4"/><circle cx="328.1" cy="731.6" r="6.4"/><circle cx="332.2" cy="921.8" r="6.4"/><circle cx="335.4" cy="815.6" r="6.4"/><circle cx="339.5" cy="842.4" r="6.4"/><circle cx="345.8" cy="955.1" r="6.4"/><circle cx="352.4" cy="977.6" r="6.4"/><circle cx="358.9" cy="987.9" r="6.4"/><circle cx="366.5" cy="927.9" r="6.4"/><circle cx="373.0" cy="984.5" r="6.4"/><circle cx="379.1" cy="885.8" r="6.4"/><circle cx="382.7" cy="764.4" r="6.4"/><circle cx="387.6" cy="762.7" r="6.4"/><circle cx="390.0" cy="930.3" r="6.4"/><circle cx="392.9" cy="833.1" r="6.4"/><circle cx="395.4" cy="840.4" r="6.4"/><circle cx="397.8" cy="899.9" r="6.4"/><circle cx="399.7" cy="876.8" r="6.4"/><circle cx="402.2" cy="942.4" r="6.4"/><circle cx="409.5" cy="872.0" r="6.4"/><circle cx="414.3" cy="872.0" r="6.4"/><circle cx="421.6" cy="994.7" r="6.4"/><circle cx="432.0" cy="974.0" r="6.4"/><circle cx="441.0" cy="993.4" r="6.4"/><circle cx="447.1" cy="1008.0" r="6.4"/><circle cx="456.0" cy="1011.0" r="6.4"/><circle cx="464.5" cy="946.0" r="6.4"/><circle cx="472.5" cy="1005.0" r="6.4"/><circle cx="480.0" cy="966.0" r="6.4"/><circle cx="489.0" cy="967.5" r="6.4"/><circle cx="498.0" cy="1000.0" r="6.4"/><circle cx="504.5" cy="987.5" r="6.4"/><circle cx="510.5" cy="1028.5" r="6.4"/><circle cx="520.0" cy="1011.0" r="6.4"/><circle cx="528.5" cy="1020.0" r="6.4"/><circle cx="537.0" cy="1021.0" r="6.4"/><circle cx="545.0" cy="973.5" r="6.4"/><circle cx="550.0" cy="997.5" r="6.4"/><circle cx="555.0" cy="978.5" r="6.4"/><circle cx="560.0" cy="1003.5" r="6.4"/><circle cx="564.0" cy="970.0" r="6.4"/><circle cx="569.5" cy="893.5" r="6.4"/><circle cx="576.0" cy="946.0" r="6.4"/><circle cx="583.5" cy="1011.5" r="6.4"/><circle cx="588.5" cy="1006.0" r="6.4"/><circle cx="592.5" cy="980.0" r="6.4"/><circle cx="598.5" cy="975.0" r="6.4"/><circle cx="604.0" cy="962.5" r="6.4"/><circle cx="609.0" cy="941.0" r="6.4"/><circle cx="614.5" cy="1008.5" r="6.4"/><circle cx="620.0" cy="1000.0" r="6.4"/><circle cx="625.5" cy="943.5" r="6.4"/><circle cx="631.5" cy="967.5" r="6.4"/><circle cx="636.5" cy="1026.0" r="6.4"/><circle cx="649.0" cy="1009.0" r="6.4"/><circle cx="661.0" cy="1012.5" r="6.4"/><circle cx="674.0" cy="1008.5" r="6.4"/><circle cx="686.0" cy="1009.0" r="6.4"/><circle cx="699.0" cy="1006.0" r="6.4"/><circle cx="712.5" cy="991.0" r="6.4"/><circle cx="730.0" cy="1006.0" r="6.4"/><circle cx="755.0" cy="1000.0" r="6.4"/><circle cx="779.0" cy="1014.0" r="6.4"/><circle cx="804.0" cy="1026.0" r="6.4"/><circle cx="830.0" cy="986.5" r="6.4"/><circle cx="861.0" cy="1010.0" r="6.4"/><circle cx="901.0" cy="964.0" r="6.4"/><circle cx="925.0" cy="1006.0" r="6.4"/><circle cx="945.0" cy="1003.6" r="6.4"/><circle cx="962.5" cy="792.0" r="6.4"/><circle cx="970.8" cy="850.0" r="6.4"/><circle cx="977.0" cy="817.0" r="6.4"/><circle cx="983.0" cy="840.8" r="6.4"/><circle cx="989.2" cy="892.0" r="6.4"/><circle cx="995.5" cy="849.2" r="6.4"/><circle cx="1002.5" cy="804.5" r="6.4"/><circle cx="1008.8" cy="850.8" r="6.4"/><circle cx="1013.0" cy="958.2" r="6.4"/><circle cx="1020.0" cy="951.8" r="6.4"/><circle cx="1026.8" cy="941.8" r="6.4"/><circle cx="1032.5" cy="976.2" r="6.4"/><circle cx="1039.2" cy="980.0" r="6.4"/><circle cx="1045.5" cy="952.0" r="6.4"/><circle cx="1051.2" cy="981.8" r="6.4"/><circle cx="1057.5" cy="991.8" r="6.4"/><circle cx="1064.5" cy="1023.8" r="6.4"/><circle cx="1071.2" cy="977.5" r="6.4"/><circle cx="1078.2" cy="1008.2" r="6.4"/><circle cx="1088.0" cy="980.0" r="6.4"/><circle cx="1095.0" cy="943.8" r="6.4"/><circle cx="1100.0" cy="967.5" r="6.4"/><circle cx="1104.2" cy="990.0" r="6.4"/><circle cx="1110.0" cy="953.8" r="6.4"/><circle cx="1116.2" cy="948.8" r="6.4"/><circle cx="1125.5" cy="949.5" r="6.4"/><circle cx="1133.8" cy="1000.8" r="6.4"/><circle cx="1140.5" cy="997.0" r="6.4"/><circle cx="1147.5" cy="929.2" r="6.4"/><circle cx="1154.2" cy="963.8" r="6.4"/><circle cx="1161.2" cy="991.2" r="6.4"/><circle cx="1167.5" cy="997.5" r="6.4"/><circle cx="1174.5" cy="1016.2" r="6.4"/><circle cx="1180.8" cy="1015.8" r="6.4"/><circle cx="1187.5" cy="980.0" r="6.4"/><circle cx="1193.8" cy="981.2" r="6.4"/><circle cx="1200.8" cy="980.8" r="6.4"/><circle cx="1207.5" cy="978.8" r="6.4"/><circle cx="1214.2" cy="955.5" r="6.4"/><circle cx="1220.8" cy="998.8" r="6.4"/><circle cx="1227.5" cy="979.5" r="6.4"/><circle cx="1234.5" cy="928.2" r="6.4"/><circle cx="1241.2" cy="978.8" r="6.4"/><circle cx="1247.5" cy="986.8" r="6.4"/><circle cx="1254.2" cy="965.0" r="6.4"/><circle cx="1260.8" cy="1009.2" r="6.4"/><circle cx="1267.5" cy="993.0" r="6.4"/><circle cx="1276.2" cy="965.0" r="6.4"/><circle cx="1283.8" cy="967.0" r="6.4"/><circle cx="1291.8" cy="1001.2" r="6.4"/><circle cx="1300.0" cy="988.0" r="6.4"/><circle cx="1308.0" cy="978.2" r="6.4"/><circle cx="1315.0" cy="919.2" r="6.4"/><circle cx="1325.5" cy="976.2" r="6.4"/><circle cx="1337.5" cy="905.8" r="6.4"/><circle cx="1339.5" cy="972.5" r="6.4"/><circle cx="1347.5" cy="966.2" r="6.4"/><circle cx="1355.0" cy="1012.5" r="6.4"/><circle cx="1361.8" cy="973.8" r="6.4"/><circle cx="1368.0" cy="1007.0" r="6.4"/><circle cx="1374.5" cy="986.2" r="6.4"/><circle cx="1381.2" cy="1005.0" r="6.4"/><circle cx="1387.0" cy="1018.8" r="6.4"/><circle cx="1393.8" cy="1011.2" r="6.4"/><circle cx="1399.5" cy="1013.8" r="6.4"/><circle cx="1405.5" cy="1017.5" r="6.4"/><circle cx="1412.5" cy="1008.8" r="6.4"/><circle cx="1418.8" cy="1011.2" r="6.4"/><circle cx="1425.0" cy="972.5" r="6.4"/><circle cx="1428.8" cy="978.8" r="6.4"/><circle cx="1431.2" cy="985.0" r="6.4"/><circle cx="1433.8" cy="896.2" r="6.4"/><circle cx="1437.5" cy="900.5" r="6.4"/><circle cx="1440.8" cy="823.8" r="6.4"/><circle cx="1444.2" cy="775.5" r="6.4"/><circle cx="1447.5" cy="952.5" r="6.4"/><circle cx="1450.8" cy="885.0" r="6.4"/><circle cx="1453.8" cy="837.5" r="6.4"/><circle cx="1457.5" cy="672.5" r="6.4"/><circle cx="1460.8" cy="836.2" r="6.4"/><circle cx="1463.8" cy="908.8" r="6.4"/><circle cx="1470.8" cy="985.0" r="6.4"/><circle cx="1473.8" cy="922.5" r="6.4"/><circle cx="1477.5" cy="937.5" r="6.4"/><circle cx="1480.8" cy="915.0" r="6.4"/><circle cx="1483.2" cy="932.5" r="6.4"/><circle cx="1486.8" cy="561.2" r="6.4"/><circle cx="1490.5" cy="847.5" r="6.4"/><circle cx="1493.2" cy="986.2" r="6.4"/><circle cx="1496.2" cy="997.5" r="6.4"/><circle cx="1500.0" cy="882.5" r="6.4"/><circle cx="1503.2" cy="962.5" r="6.4"/><circle cx="1509.2" cy="1040.0" r="6.4"/><circle cx="1512.5" cy="951.2" r="6.4"/><circle cx="1516.2" cy="997.5" r="6.4"/><circle cx="1519.5" cy="977.5" r="6.4"/><circle cx="1523.8" cy="940.0" r="6.4"/><circle cx="1528.8" cy="933.8" r="6.4"/><circle cx="1535.0" cy="932.5" r="6.4"/><circle cx="1539.2" cy="940.0" r="6.4"/><circle cx="1542.5" cy="955.0" r="6.4"/><circle cx="1546.2" cy="943.8" r="6.4"/><circle cx="1552.0" cy="951.2" r="6.4"/><circle cx="1558.8" cy="990.0" r="6.4"/><circle cx="1563.8" cy="973.8" r="6.4"/><circle cx="1567.5" cy="970.0" r="6.4"/><circle cx="1571.8" cy="927.5" r="6.4"/><circle cx="1580.0" cy="996.2" r="6.4"/><circle cx="1585.0" cy="967.5" r="6.4"/><circle cx="1587.5" cy="997.5" r="6.4"/><circle cx="1591.2" cy="966.2" r="6.4"/><circle cx="1596.2" cy="970.0" r="6.4"/><circle cx="1602.0" cy="1001.2" r="6.4"/><circle cx="1607.5" cy="1002.5" r="6.4"/><circle cx="1611.2" cy="1006.2" r="6.4"/><circle cx="1616.2" cy="928.8" r="6.4"/><circle cx="1621.2" cy="938.8" r="6.4"/><circle cx="1626.2" cy="1003.8" r="6.4"/><circle cx="1636.2" cy="997.5" r="6.4"/><circle cx="1641.2" cy="980.0" r="6.4"/><circle cx="1646.8" cy="946.2" r="6.4"/><circle cx="1652.2" cy="1001.0" r="6.4"/><circle cx="1656.7" cy="974.2" r="6.4"/><circle cx="1661.9" cy="937.9" r="6.4"/><circle cx="1667.0" cy="923.8" r="6.4"/><circle cx="1672.2" cy="949.0" r="6.4"/><circle cx="1677.0" cy="962.0" r="6.4"/><circle cx="1681.9" cy="1001.7" r="6.4"/><circle cx="1687.1" cy="787.1" r="6.4"/><circle cx="1692.3" cy="877.9" r="6.4"/><circle cx="1698.2" cy="940.1" r="6.4"/><circle cx="1707.1" cy="867.2" r="6.4"/><circle cx="1717.5" cy="964.2" r="6.4"/><circle cx="1727.1" cy="985.4" r="6.4"/><circle cx="1732.3" cy="994.7" r="6.4"/><circle cx="1741.9" cy="1007.6" r="6.4"/><circle cx="1747.1" cy="1008.4" r="6.4"/><circle cx="1753.0" cy="1018.7" r="6.4"/><circle cx="1758.2" cy="1019.5" r="6.4"/><circle cx="1761.9" cy="991.3" r="6.4"/><circle cx="1767.1" cy="989.8" r="6.4"/><circle cx="1773.1" cy="912.7" r="6.4"/><circle cx="1777.5" cy="987.9" r="6.4"/><circle cx="1782.7" cy="1009.1" r="6.4"/><circle cx="1787.9" cy="991.3" r="6.4"/></g>
<path d="M232.0,1402.0 L238.0,1363.0 L243.7,1414.2 L249.2,1432.2 L254.7,1391.2 L260.5,1423.7 L266.2,1389.2 L271.7,1436.3 L277.5,1384.2 L282.5,1420.0 L288.3,1413.0 L293.8,1427.5 L299.6,1330.8 L305.0,1428.3 L310.8,1443.8 L316.3,1427.0 L322.0,1367.0 L327.5,1395.8 L333.3,1393.7 L338.8,1369.2 L344.5,1400.0 L350.0,1315.8 L355.5,1191.7 L361.3,1240.5 L366.7,1277.8 L372.2,1427.8 L378.0,1381.7 L383.7,1348.7 L389.2,1374.2 L394.7,1390.8 L400.3,1433.3 L405.8,1395.0 L411.7,1378.0 L417.2,1436.3 L422.5,1413.0 L428.3,1413.3 L433.8,1404.2 L439.7,1425.8 L445.0,1376.7 L450.8,1398.8 L456.3,1364.2 L461.7,1437.0 L467.5,1413.3 L473.7,1415.0 L478.7,1373.3 L484.5,1357.2 L490.0,1381.7 L495.3,1404.2 L501.2,1421.7 L506.7,1392.5 L512.5,1380.8 L518.0,1375.8 L523.3,1418.3 L529.2,1398.3 L534.7,1377.5 L540.3,1342.5 L545.8,1408.0 L551.2,1399.2 L556.7,1395.8 L562.8,1389.2 L568.0,1451.7 L573.7,1435.8 L579.5,1434.7 L585.0,1441.3 L590.5,1452.5 L596.2,1459.2 L601.7,1468.3 L607.2,1470.0 L613.0,1466.3 L618.3,1475.8 L624.4,1476.0 L629.9,1450.8 L635.5,1428.8 L641.1,1497.9 L646.7,1363.0 L652.5,1382.5 L657.9,1462.7 L663.7,1390.8" fill="none" stroke="#1080ff" stroke-width="3.6" stroke-linejoin="miter" stroke-miterlimit="10"/>
<g fill="#fff" stroke="#1080ff" stroke-width="4.1"><circle cx="232.0" cy="1402.0" r="6.2"/><circle cx="238.0" cy="1363.0" r="6.2"/><circle cx="243.7" cy="1414.2" r="6.2"/><circle cx="249.2" cy="1432.2" r="6.2"/><circle cx="254.7" cy="1391.2" r="6.2"/><circle cx="260.5" cy="1423.7" r="6.2"/><circle cx="266.2" cy="1389.2" r="6.2"/><circle cx="271.7" cy="1436.3" r="6.2"/><circle cx="277.5" cy="1384.2" r="6.2"/><circle cx="282.5" cy="1420.0" r="6.2"/><circle cx="288.3" cy="1413.0" r="6.2"/><circle cx="293.8" cy="1427.5" r="6.2"/><circle cx="299.6" cy="1330.8" r="6.2"/><circle cx="305.0" cy="1428.3" r="6.2"/><circle cx="310.8" cy="1443.8" r="6.2"/><circle cx="316.3" cy="1427.0" r="6.2"/><circle cx="322.0" cy="1367.0" r="6.2"/><circle cx="327.5" cy="1395.8" r="6.2"/><circle cx="333.3" cy="1393.7" r="6.2"/><circle cx="338.8" cy="1369.2" r="6.2"/><circle cx="344.5" cy="1400.0" r="6.2"/><circle cx="350.0" cy="1315.8" r="6.2"/><circle cx="355.5" cy="1191.7" r="6.2"/><circle cx="361.3" cy="1240.5" r="6.2"/><circle cx="366.7" cy="1277.8" r="6.2"/><circle cx="372.2" cy="1427.8" r="6.2"/><circle cx="378.0" cy="1381.7" r="6.2"/><circle cx="383.7" cy="1348.7" r="6.2"/><circle cx="389.2" cy="1374.2" r="6.2"/><circle cx="394.7" cy="1390.8" r="6.2"/><circle cx="400.3" cy="1433.3" r="6.2"/><circle cx="405.8" cy="1395.0" r="6.2"/><circle cx="411.7" cy="1378.0" r="6.2"/><circle cx="417.2" cy="1436.3" r="6.2"/><circle cx="422.5" cy="1413.0" r="6.2"/><circle cx="428.3" cy="1413.3" r="6.2"/><circle cx="433.8" cy="1404.2" r="6.2"/><circle cx="439.7" cy="1425.8" r="6.2"/><circle cx="445.0" cy="1376.7" r="6.2"/><circle cx="450.8" cy="1398.8" r="6.2"/><circle cx="456.3" cy="1364.2" r="6.2"/><circle cx="461.7" cy="1437.0" r="6.2"/><circle cx="467.5" cy="1413.3" r="6.2"/><circle cx="473.7" cy="1415.0" r="6.2"/><circle cx="478.7" cy="1373.3" r="6.2"/><circle cx="484.5" cy="1357.2" r="6.2"/><circle cx="490.0" cy="1381.7" r="6.2"/><circle cx="495.3" cy="1404.2" r="6.2"/><circle cx="501.2" cy="1421.7" r="6.2"/><circle cx="506.7" cy="1392.5" r="6.2"/><circle cx="512.5" cy="1380.8" r="6.2"/><circle cx="518.0" cy="1375.8" r="6.2"/><circle cx="523.3" cy="1418.3" r="6.2"/><circle cx="529.2" cy="1398.3" r="6.2"/><circle cx="534.7" cy="1377.5" r="6.2"/><circle cx="540.3" cy="1342.5" r="6.2"/><circle cx="545.8" cy="1408.0" r="6.2"/><circle cx="551.2" cy="1399.2" r="6.2"/><circle cx="556.7" cy="1395.8" r="6.2"/><circle cx="562.8" cy="1389.2" r="6.2"/><circle cx="568.0" cy="1451.7" r="6.2"/><circle cx="573.7" cy="1435.8" r="6.2"/><circle cx="579.5" cy="1434.7" r="6.2"/><circle cx="585.0" cy="1441.3" r="6.2"/><circle cx="590.5" cy="1452.5" r="6.2"/><circle cx="596.2" cy="1459.2" r="6.2"/><circle cx="601.7" cy="1468.3" r="6.2"/><circle cx="607.2" cy="1470.0" r="6.2"/><circle cx="613.0" cy="1466.3" r="6.2"/><circle cx="618.3" cy="1475.8" r="6.2"/><circle cx="624.4" cy="1476.0" r="6.2"/><circle cx="629.9" cy="1450.8" r="6.2"/><circle cx="635.5" cy="1428.8" r="6.2"/><circle cx="641.1" cy="1497.9" r="6.2"/><circle cx="646.7" cy="1363.0" r="6.2"/><circle cx="652.5" cy="1382.5" r="6.2"/><circle cx="657.9" cy="1462.7" r="6.2"/><circle cx="663.7" cy="1390.8" r="6.2"/></g>
<path d="M226.8,1736.2 L238.0,1693.0 L249.2,1650.0 L260.5,1594.5 L271.8,1599.5 L283.0,1575.0 L294.2,1735.0 L305.5,1772.5 L316.8,1899.2 L328.0,1875.5 L339.0,1862.5 L350.0,1899.2 L361.2,1831.2 L372.5,1835.0 L383.8,1801.2 L395.0,1749.2 L406.2,1944.2 L417.5,1695.8 L428.8,1784.2 L439.5,1860.8 L450.8,1853.8 L462.0,1899.2 L473.2,1913.2 L484.5,1908.8 L495.8,1886.2 L507.0,1875.8 L518.2,1895.8 L529.2,1913.2 L540.5,1912.5 L551.8,1881.2 L563.0,1886.2 L574.2,1921.2 L585.5,1940.0 L596.8,1951.5 L607.0,1901.8 L618.2,1891.8 L629.5,1890.8 L640.8,1890.0 L652.0,1891.2 L663.2,1908.8 L674.5,1904.2 L685.8,1897.5 L697.0,1898.8 L708.2,1899.2 L719.5,1907.5 L730.8,1933.8 L742.0,1900.5 L753.0,1864.5 L764.2,1881.8 L775.5,1894.5 L786.8,1908.0 L798.0,1933.8 L809.2,1947.5 L820.5,1950.8 L831.8,1927.5 L842.8,1930.0 L854.0,1940.0 L865.2,1928.0 L876.5,1933.8 L887.8,1922.5 L898.5,1805.0 L909.8,1818.8 L920.8,1892.5 L932.0,1905.0 L943.2,1923.8 L954.5,1936.2 L965.8,1924.0 L977.0,1915.0 L988.2,1924.2 L999.5,1891.8 L1010.8,1920.0 L1022.0,1896.8 L1033.2,1893.8 L1044.5,1890.8 L1055.2,1934.2 L1066.5,1920.0 L1077.8,1922.5 L1089.0,1907.5 L1100.2,1928.8 L1111.5,1923.0 L1122.8,1915.0 L1133.8,1872.5 L1145.0,1881.8 L1156.2,1887.5 L1167.5,1695.5 L1178.5,1778.2 L1189.5,1840.0 L1200.8,1832.5 L1212.0,1856.2 L1223.2,1910.0 L1234.5,1923.0 L1245.8,1822.5 L1257.0,1832.5 L1268.2,1700.0 L1279.5,1744.2 L1290.8,1745.5 L1301.5,1860.0 L1312.8,1847.5 L1324.0,1845.8 L1335.5,1892.5 L1346.8,1806.2 L1357.5,1886.8 L1368.8,1903.2 L1380.0,1915.5 L1391.2,1928.8 L1402.5,1927.0 L1413.8,1904.5 L1425.0,1892.5 L1436.2,1888.8 L1447.5,1910.8 L1458.2,1942.0 L1469.5,1939.5 L1480.8,1933.8 L1492.0,1914.5 L1503.0,1785.0 L1514.2,1802.0 L1525.5,1876.8 L1536.8,1786.8 L1548.0,1865.0 L1559.2,1865.0 L1570.5,1853.0 L1581.2,1905.8 L1592.5,1897.5 L1603.8,1939.2 L1615.0,1911.8 L1626.5,1901.4 L1637.5,1906.8 L1648.6,1918.7 L1659.9,1918.1 L1671.0,1903.2 L1682.1,1883.6 L1693.5,1874.6 L1704.5,1880.0 L1715.8,1888.1 L1726.9,1898.5 L1738.2,1912.7 L1749.4,1912.1 L1760.5,1911.3 L1771.8,1912.7 L1783.1,1892.7 L1794.4,1883.6" fill="none" stroke="#000080" stroke-width="3.6" stroke-linejoin="miter" stroke-miterlimit="10"/>
<g fill="#fff" stroke="#000080" stroke-width="4.0"><circle cx="226.8" cy="1736.2" r="6.0"/><circle cx="238.0" cy="1693.0" r="6.0"/><circle cx="249.2" cy="1650.0" r="6.0"/><circle cx="260.5" cy="1594.5" r="6.0"/><circle cx="271.8" cy="1599.5" r="6.0"/><circle cx="283.0" cy="1575.0" r="6.0"/><circle cx="294.2" cy="1735.0" r="6.0"/><circle cx="305.5" cy="1772.5" r="6.0"/><circle cx="316.8" cy="1899.2" r="6.0"/><circle cx="328.0" cy="1875.5" r="6.0"/><circle cx="339.0" cy="1862.5" r="6.0"/><circle cx="350.0" cy="1899.2" r="6.0"/><circle cx="361.2" cy="1831.2" r="6.0"/><circle cx="372.5" cy="1835.0" r="6.0"/><circle cx="383.8" cy="1801.2" r="6.0"/><circle cx="395.0" cy="1749.2" r="6.0"/><circle cx="406.2" cy="1944.2" r="6.0"/><circle cx="417.5" cy="1695.8" r="6.0"/><circle cx="428.8" cy="1784.2" r="6.0"/><circle cx="439.5" cy="1860.8" r="6.0"/><circle cx="450.8" cy="1853.8" r="6.0"/><circle cx="462.0" cy="1899.2" r="6.0"/><circle cx="473.2" cy="1913.2" r="6.0"/><circle cx="484.5" cy="1908.8" r="6.0"/><circle cx="495.8" cy="1886.2" r="6.0"/><circle cx="507.0" cy="1875.8" r="6.0"/><circle cx="518.2" cy="1895.8" r="6.0"/><circle cx="529.2" cy="1913.2" r="6.0"/><circle cx="540.5" cy="1912.5" r="6.0"/><circle cx="551.8" cy="1881.2" r="6.0"/><circle cx="563.0" cy="1886.2" r="6.0"/><circle cx="574.2" cy="1921.2" r="6.0"/><circle cx="585.5" cy="1940.0" r="6.0"/><circle cx="596.8" cy="1951.5" r="6.0"/><circle cx="607.0" cy="1901.8" r="6.0"/><circle cx="618.2" cy="1891.8" r="6.0"/><circle cx="629.5" cy="1890.8" r="6.0"/><circle cx="640.8" cy="1890.0" r="6.0"/><circle cx="652.0" cy="1891.2" r="6.0"/><circle cx="663.2" cy="1908.8" r="6.0"/><circle cx="674.5" cy="1904.2" r="6.0"/><circle cx="685.8" cy="1897.5" r="6.0"/><circle cx="697.0" cy="1898.8" r="6.0"/><circle cx="708.2" cy="1899.2" r="6.0"/><circle cx="719.5" cy="1907.5" r="6.0"/><circle cx="730.8" cy="1933.8" r="6.0"/><circle cx="742.0" cy="1900.5" r="6.0"/><circle cx="753.0" cy="1864.5" r="6.0"/><circle cx="764.2" cy="1881.8" r="6.0"/><circle cx="775.5" cy="1894.5" r="6.0"/><circle cx="786.8" cy="1908.0" r="6.0"/><circle cx="798.0" cy="1933.8" r="6.0"/><circle cx="809.2" cy="1947.5" r="6.0"/><circle cx="820.5" cy="1950.8" r="6.0"/><circle cx="831.8" cy="1927.5" r="6.0"/><circle cx="842.8" cy="1930.0" r="6.0"/><circle cx="854.0" cy="1940.0" r="6.0"/><circle cx="865.2" cy="1928.0" r="6.0"/><circle cx="876.5" cy="1933.8" r="6.0"/><circle cx="887.8" cy="1922.5" r="6.0"/><circle cx="898.5" cy="1805.0" r="6.0"/><circle cx="909.8" cy="1818.8" r="6.0"/><circle cx="920.8" cy="1892.5" r="6.0"/><circle cx="932.0" cy="1905.0" r="6.0"/><circle cx="943.2" cy="1923.8" r="6.0"/><circle cx="954.5" cy="1936.2" r="6.0"/><circle cx="965.8" cy="1924.0" r="6.0"/><circle cx="977.0" cy="1915.0" r="6.0"/><circle cx="988.2" cy="1924.2" r="6.0"/><circle cx="999.5" cy="1891.8" r="6.0"/><circle cx="1010.8" cy="1920.0" r="6.0"/><circle cx="1022.0" cy="1896.8" r="6.0"/><circle cx="1033.2" cy="1893.8" r="6.0"/><circle cx="1044.5" cy="1890.8" r="6.0"/><circle cx="1055.2" cy="1934.2" r="6.0"/><circle cx="1066.5" cy="1920.0" r="6.0"/><circle cx="1077.8" cy="1922.5" r="6.0"/><circle cx="1089.0" cy="1907.5" r="6.0"/><circle cx="1100.2" cy="1928.8" r="6.0"/><circle cx="1111.5" cy="1923.0" r="6.0"/><circle cx="1122.8" cy="1915.0" r="6.0"/><circle cx="1133.8" cy="1872.5" r="6.0"/><circle cx="1145.0" cy="1881.8" r="6.0"/><circle cx="1156.2" cy="1887.5" r="6.0"/><circle cx="1167.5" cy="1695.5" r="6.0"/><circle cx="1178.5" cy="1778.2" r="6.0"/><circle cx="1189.5" cy="1840.0" r="6.0"/><circle cx="1200.8" cy="1832.5" r="6.0"/><circle cx="1212.0" cy="1856.2" r="6.0"/><circle cx="1223.2" cy="1910.0" r="6.0"/><circle cx="1234.5" cy="1923.0" r="6.0"/><circle cx="1245.8" cy="1822.5" r="6.0"/><circle cx="1257.0" cy="1832.5" r="6.0"/><circle cx="1268.2" cy="1700.0" r="6.0"/><circle cx="1279.5" cy="1744.2" r="6.0"/><circle cx="1290.8" cy="1745.5" r="6.0"/><circle cx="1301.5" cy="1860.0" r="6.0"/><circle cx="1312.8" cy="1847.5" r="6.0"/><circle cx="1324.0" cy="1845.8" r="6.0"/><circle cx="1335.5" cy="1892.5" r="6.0"/><circle cx="1346.8" cy="1806.2" r="6.0"/><circle cx="1357.5" cy="1886.8" r="6.0"/><circle cx="1368.8" cy="1903.2" r="6.0"/><circle cx="1380.0" cy="1915.5" r="6.0"/><circle cx="1391.2" cy="1928.8" r="6.0"/><circle cx="1402.5" cy="1927.0" r="6.0"/><circle cx="1413.8" cy="1904.5" r="6.0"/><circle cx="1425.0" cy="1892.5" r="6.0"/><circle cx="1436.2" cy="1888.8" r="6.0"/><circle cx="1447.5" cy="1910.8" r="6.0"/><circle cx="1458.2" cy="1942.0" r="6.0"/><circle cx="1469.5" cy="1939.5" r="6.0"/><circle cx="1480.8" cy="1933.8" r="6.0"/><circle cx="1492.0" cy="1914.5" r="6.0"/><circle cx="1503.0" cy="1785.0" r="6.0"/><circle cx="1514.2" cy="1802.0" r="6.0"/><circle cx="1525.5" cy="1876.8" r="6.0"/><circle cx="1536.8" cy="1786.8" r="6.0"/><circle cx="1548.0" cy="1865.0" r="6.0"/><circle cx="1559.2" cy="1865.0" r="6.0"/><circle cx="1570.5" cy="1853.0" r="6.0"/><circle cx="1581.2" cy="1905.8" r="6.0"/><circle cx="1592.5" cy="1897.5" r="6.0"/><circle cx="1603.8" cy="1939.2" r="6.0"/><circle cx="1615.0" cy="1911.8" r="6.0"/><circle cx="1626.5" cy="1901.4" r="6.0"/><circle cx="1637.5" cy="1906.8" r="6.0"/><circle cx="1648.6" cy="1918.7" r="6.0"/><circle cx="1659.9" cy="1918.1" r="6.0"/><circle cx="1671.0" cy="1903.2" r="6.0"/><circle cx="1682.1" cy="1883.6" r="6.0"/><circle cx="1693.5" cy="1874.6" r="6.0"/><circle cx="1704.5" cy="1880.0" r="6.0"/><circle cx="1715.8" cy="1888.1" r="6.0"/><circle cx="1726.9" cy="1898.5" r="6.0"/><circle cx="1738.2" cy="1912.7" r="6.0"/><circle cx="1749.4" cy="1912.1" r="6.0"/><circle cx="1760.5" cy="1911.3" r="6.0"/><circle cx="1771.8" cy="1912.7" r="6.0"/><circle cx="1783.1" cy="1892.7" r="6.0"/><circle cx="1794.4" cy="1883.6" r="6.0"/></g>
<path d="M226.8,2300.8 L238.0,2390.5 L249.2,2405.5 L260.5,2361.2 L271.8,2375.0 L283.0,2369.2 L294.2,2377.5 L305.5,2320.8 L316.5,2358.0 L327.8,2332.5 L339.0,2385.0 L350.2,2383.2 L361.5,2382.5 L372.8,2382.5 L384.0,2381.8 L395.0,2398.2 L406.2,2393.8 L417.5,2408.0 L428.8,2407.0 L440.0,2393.8 L451.2,2402.5 L462.5,2408.0 L473.2,2407.5 L484.5,2399.2 L495.8,2381.2 L507.0,2389.2 L518.2,2400.0 L529.2,2418.8 L540.5,2420.8 L551.8,2418.8 L563.0,2416.2 L574.2,2413.8 L585.5,2411.2 L596.5,2410.0 L607.8,2408.0 L619.0,2405.5 L629.8,2422.5 L641.0,2425.0 L652.2,2415.5 L663.5,2412.5 L674.5,2410.8 L685.8,2412.5 L697.0,2413.8 L708.2,2407.5 L719.5,2398.8 L730.5,2414.2 L741.8,2403.8 L753.0,2395.5 L764.2,2400.8 L775.5,2405.5 L786.8,2399.2 L797.8,2388.8 L809.0,2402.0 L820.2,2409.2 L831.5,2412.5 L842.8,2418.2 L854.0,2415.8 L865.2,2424.2 L876.0,2426.2 L887.2,2416.2 L898.5,2406.2 L909.8,2387.0 L921.0,2408.8 L932.2,2408.8 L943.5,2419.5 L954.5,2420.0 L965.8,2394.5 L977.0,2406.8 L988.2,2378.8 L999.5,2388.8 L1010.2,2409.2 L1021.5,2419.5 L1032.8,2424.5 L1044.0,2429.5 L1055.2,2429.5 L1066.5,2429.2 L1077.8,2429.2 L1089.0,2429.2 L1100.2,2429.2 L1111.5,2429.5 L1122.8,2428.8 L1134.0,2428.2 L1145.2,2427.0 L1156.2,2423.8 L1167.5,2422.5 L1178.8,2422.5 L1190.0,2422.5 L1201.2,2423.8 L1212.5,2424.2 L1223.8,2425.0 L1234.5,2425.0 L1245.8,2425.0 L1257.0,2425.5 L1268.0,2369.2 L1279.2,2282.0 L1290.5,2119.5 L1301.8,2227.0 L1313.0,2361.2 L1324.2,2393.2 L1335.5,2384.5 L1346.5,2372.5 L1357.8,2361.2 L1369.0,2353.8 L1380.0,2378.8 L1391.2,2410.0 L1402.5,2406.2 L1413.8,2406.2 L1425.0,2410.8 L1436.2,2404.5 L1447.5,2401.2 L1458.2,2400.0 L1469.5,2400.0 L1480.8,2400.0 L1492.0,2353.2 L1503.2,2323.8 L1514.3,2100.6 L1525.5,2052.3 L1536.7,2112.8 L1548.0,2310.0 L1559.2,2367.5 L1570.5,2368.8 L1581.8,2340.8 L1593.0,2360.0 L1604.0,2348.5 L1615.2,2344.8 L1626.5,2364.0 L1637.7,2352.1 L1648.9,2335.6 L1659.9,2372.6 L1671.2,2393.1 L1682.3,2375.0 L1693.5,2380.5 L1704.8,2352.8 L1716.0,2359.0 L1727.2,2362.0 L1738.2,2347.7 L1749.5,2329.6 L1760.7,2332.2 L1771.7,2377.9 L1782.9,2379.2 L1794.2,2380.9" fill="none" stroke="#0f8080" stroke-width="3.6" stroke-linejoin="miter" stroke-miterlimit="10"/>
<g fill="#fff" stroke="#0f8080" stroke-width="4.1"><circle cx="226.8" cy="2300.8" r="6.2"/><circle cx="238.0" cy="2390.5" r="6.2"/><circle cx="249.2" cy="2405.5" r="6.2"/><circle cx="260.5" cy="2361.2" r="6.2"/><circle cx="271.8" cy="2375.0" r="6.2"/><circle cx="283.0" cy="2369.2" r="6.2"/><circle cx="294.2" cy="2377.5" r="6.2"/><circle cx="305.5" cy="2320.8" r="6.2"/><circle cx="316.5" cy="2358.0" r="6.2"/><circle cx="327.8" cy="2332.5" r="6.2"/><circle cx="339.0" cy="2385.0" r="6.2"/><circle cx="350.2" cy="2383.2" r="6.2"/><circle cx="361.5" cy="2382.5" r="6.2"/><circle cx="372.8" cy="2382.5" r="6.2"/><circle cx="384.0" cy="2381.8" r="6.2"/><circle cx="395.0" cy="2398.2" r="6.2"/><circle cx="406.2" cy="2393.8" r="6.2"/><circle cx="417.5" cy="2408.0" r="6.2"/><circle cx="428.8" cy="2407.0" r="6.2"/><circle cx="440.0" cy="2393.8" r="6.2"/><circle cx="451.2" cy="2402.5" r="6.2"/><circle cx="462.5" cy="2408.0" r="6.2"/><circle cx="473.2" cy="2407.5" r="6.2"/><circle cx="484.5" cy="2399.2" r="6.2"/><circle cx="495.8" cy="2381.2" r="6.2"/><circle cx="507.0" cy="2389.2" r="6.2"/><circle cx="518.2" cy="2400.0" r="6.2"/><circle cx="529.2" cy="2418.8" r="6.2"/><circle cx="540.5" cy="2420.8" r="6.2"/><circle cx="551.8" cy="2418.8" r="6.2"/><circle cx="563.0" cy="2416.2" r="6.2"/><circle cx="574.2" cy="2413.8" r="6.2"/><circle cx="585.5" cy="2411.2" r="6.2"/><circle cx="596.5" cy="2410.0" r="6.2"/><circle cx="607.8" cy="2408.0" r="6.2"/><circle cx="619.0" cy="2405.5" r="6.2"/><circle cx="629.8" cy="2422.5" r="6.2"/><circle cx="641.0" cy="2425.0" r="6.2"/><circle cx="652.2" cy="2415.5" r="6.2"/><circle cx="663.5" cy="2412.5" r="6.2"/><circle cx="674.5" cy="2410.8" r="6.2"/><circle cx="685.8" cy="2412.5" r="6.2"/><circle cx="697.0" cy="2413.8" r="6.2"/><circle cx="708.2" cy="2407.5" r="6.2"/><circle cx="719.5" cy="2398.8" r="6.2"/><circle cx="730.5" cy="2414.2" r="6.2"/><circle cx="741.8" cy="2403.8" r="6.2"/><circle cx="753.0" cy="2395.5" r="6.2"/><circle cx="764.2" cy="2400.8" r="6.2"/><circle cx="775.5" cy="2405.5" r="6.2"/><circle cx="786.8" cy="2399.2" r="6.2"/><circle cx="797.8" cy="2388.8" r="6.2"/><circle cx="809.0" cy="2402.0" r="6.2"/><circle cx="820.2" cy="2409.2" r="6.2"/><circle cx="831.5" cy="2412.5" r="6.2"/><circle cx="842.8" cy="2418.2" r="6.2"/><circle cx="854.0" cy="2415.8" r="6.2"/><circle cx="865.2" cy="2424.2" r="6.2"/><circle cx="876.0" cy="2426.2" r="6.2"/><circle cx="887.2" cy="2416.2" r="6.2"/><circle cx="898.5" cy="2406.2" r="6.2"/><circle cx="909.8" cy="2387.0" r="6.2"/><circle cx="921.0" cy="2408.8" r="6.2"/><circle cx="932.2" cy="2408.8" r="6.2"/><circle cx="943.5" cy="2419.5" r="6.2"/><circle cx="954.5" cy="2420.0" r="6.2"/><circle cx="965.8" cy="2394.5" r="6.2"/><circle cx="977.0" cy="2406.8" r="6.2"/><circle cx="988.2" cy="2378.8" r="6.2"/><circle cx="999.5" cy="2388.8" r="6.2"/><circle cx="1010.2" cy="2409.2" r="6.2"/><circle cx="1021.5" cy="2419.5" r="6.2"/><circle cx="1032.8" cy="2424.5" r="6.2"/><circle cx="1044.0" cy="2429.5" r="6.2"/><circle cx="1055.2" cy="2429.5" r="6.2"/><circle cx="1066.5" cy="2429.2" r="6.2"/><circle cx="1077.8" cy="2429.2" r="6.2"/><circle cx="1089.0" cy="2429.2" r="6.2"/><circle cx="1100.2" cy="2429.2" r="6.2"/><circle cx="1111.5" cy="2429.5" r="6.2"/><circle cx="1122.8" cy="2428.8" r="6.2"/><circle cx="1134.0" cy="2428.2" r="6.2"/><circle cx="1145.2" cy="2427.0" r="6.2"/><circle cx="1156.2" cy="2423.8" r="6.2"/><circle cx="1167.5" cy="2422.5" r="6.2"/><circle cx="1178.8" cy="2422.5" r="6.2"/><circle cx="1190.0" cy="2422.5" r="6.2"/><circle cx="1201.2" cy="2423.8" r="6.2"/><circle cx="1212.5" cy="2424.2" r="6.2"/><circle cx="1223.8" cy="2425.0" r="6.2"/><circle cx="1234.5" cy="2425.0" r="6.2"/><circle cx="1245.8" cy="2425.0" r="6.2"/><circle cx="1257.0" cy="2425.5" r="6.2"/><circle cx="1268.0" cy="2369.2" r="6.2"/><circle cx="1279.2" cy="2282.0" r="6.2"/><circle cx="1290.5" cy="2119.5" r="6.2"/><circle cx="1301.8" cy="2227.0" r="6.2"/><circle cx="1313.0" cy="2361.2" r="6.2"/><circle cx="1324.2" cy="2393.2" r="6.2"/><circle cx="1335.5" cy="2384.5" r="6.2"/><circle cx="1346.5" cy="2372.5" r="6.2"/><circle cx="1357.8" cy="2361.2" r="6.2"/><circle cx="1369.0" cy="2353.8" r="6.2"/><circle cx="1380.0" cy="2378.8" r="6.2"/><circle cx="1391.2" cy="2410.0" r="6.2"/><circle cx="1402.5" cy="2406.2" r="6.2"/><circle cx="1413.8" cy="2406.2" r="6.2"/><circle cx="1425.0" cy="2410.8" r="6.2"/><circle cx="1436.2" cy="2404.5" r="6.2"/><circle cx="1447.5" cy="2401.2" r="6.2"/><circle cx="1458.2" cy="2400.0" r="6.2"/><circle cx="1469.5" cy="2400.0" r="6.2"/><circle cx="1480.8" cy="2400.0" r="6.2"/><circle cx="1492.0" cy="2353.2" r="6.2"/><circle cx="1503.2" cy="2323.8" r="6.2"/><circle cx="1514.3" cy="2100.6" r="6.2"/><circle cx="1525.5" cy="2052.3" r="6.2"/><circle cx="1536.7" cy="2112.8" r="6.2"/><circle cx="1548.0" cy="2310.0" r="6.2"/><circle cx="1559.2" cy="2367.5" r="6.2"/><circle cx="1570.5" cy="2368.8" r="6.2"/><circle cx="1581.8" cy="2340.8" r="6.2"/><circle cx="1593.0" cy="2360.0" r="6.2"/><circle cx="1604.0" cy="2348.5" r="6.2"/><circle cx="1615.2" cy="2344.8" r="6.2"/><circle cx="1626.5" cy="2364.0" r="6.2"/><circle cx="1637.7" cy="2352.1" r="6.2"/><circle cx="1648.9" cy="2335.6" r="6.2"/><circle cx="1659.9" cy="2372.6" r="6.2"/><circle cx="1671.2" cy="2393.1" r="6.2"/><circle cx="1682.3" cy="2375.0" r="6.2"/><circle cx="1693.5" cy="2380.5" r="6.2"/><circle cx="1704.8" cy="2352.8" r="6.2"/><circle cx="1716.0" cy="2359.0" r="6.2"/><circle cx="1727.2" cy="2362.0" r="6.2"/><circle cx="1738.2" cy="2347.7" r="6.2"/><circle cx="1749.5" cy="2329.6" r="6.2"/><circle cx="1760.7" cy="2332.2" r="6.2"/><circle cx="1771.7" cy="2377.9" r="6.2"/><circle cx="1782.9" cy="2379.2" r="6.2"/><circle cx="1794.2" cy="2380.9" r="6.2"/></g>
<path d="M226.8,2878.5 L238.0,3006.6 L249.2,3028.0 L260.5,2964.9 L271.8,2984.5 L283.0,2976.3 L294.2,2988.0 L305.5,2907.1 L316.5,2960.2 L327.8,2923.8 L339.0,2998.7 L350.2,2996.2 L361.5,2995.2 L372.8,2995.2 L384.0,2994.1 L395.0,3017.6 L406.2,3011.2 L417.5,3031.6 L428.8,3030.1 L440.0,3011.2 L451.2,3023.7 L462.5,3031.6 L473.2,3030.8 L484.5,3019.1 L495.8,2993.4 L507.0,3004.8 L518.2,3020.1 L529.2,3046.9 L540.5,3049.7 L551.8,3046.9 L563.0,3043.3 L574.2,3039.8 L585.5,3036.2 L596.5,3034.4 L607.8,3031.6 L619.0,3028.0 L629.8,3052.2 L641.0,3055.8 L652.2,3042.3 L663.5,3038.0 L674.5,3035.5 L685.8,3038.0 L697.0,3039.8 L708.2,3030.8 L719.5,3018.4 L730.5,3040.5 L741.8,3025.5 L753.0,3013.7 L764.2,3021.2 L775.5,3028.0 L786.8,3019.1 L797.8,3004.1 L809.0,3023.0 L820.2,3033.3 L831.5,3038.0 L842.8,3046.2 L854.0,3042.6 L865.2,3054.7 L876.0,3057.6 L887.2,3043.3 L898.5,3029.1 L909.8,3001.6 L921.0,3032.6 L932.2,3032.6 L943.5,3048.0 L954.5,3048.7 L965.8,3012.3 L977.0,3029.8 L988.2,2989.8 L999.5,3004.1 L1010.2,3033.3 L1021.5,3048.0 L1032.8,3055.1 L1044.0,3062.2 L1055.2,3062.2 L1066.5,3061.9 L1077.8,3061.9 L1089.0,3061.9 L1100.2,3061.9 L1111.5,3062.2 L1122.8,3061.2 L1134.0,3060.4 L1145.2,3058.7 L1156.2,3054.0 L1167.5,3052.2 L1178.8,3052.2 L1190.0,3052.2 L1201.2,3054.0 L1212.5,3054.7 L1223.8,3055.8 L1234.5,3055.8 L1245.8,3055.8 L1257.0,3056.5 L1268.0,2976.3 L1279.2,2851.8 L1290.5,2619.9 L1301.8,2773.3 L1313.0,2964.9 L1324.2,3010.5 L1335.5,2998.0 L1346.5,2980.9 L1357.8,2964.9 L1369.0,2954.1 L1380.0,2989.8 L1391.2,3034.4 L1402.5,3029.1 L1413.8,3029.1 L1425.0,3035.5 L1436.2,3026.6 L1447.5,3021.9 L1458.2,3020.1 L1469.5,3020.1 L1480.8,3020.1 L1492.0,2953.4 L1503.2,2911.3 L1514.3,2592.9 L1525.5,2524.0 L1536.7,2610.4 L1548.0,2891.7 L1559.2,2973.8 L1570.5,2975.6 L1581.8,2935.6 L1593.0,2963.1 L1604.0,2946.7 L1615.2,2941.4 L1626.5,2968.8 L1637.7,2951.8 L1648.9,2928.3 L1659.9,2981.0 L1671.2,3010.3 L1682.3,2984.5 L1693.5,2992.3 L1704.8,2952.8 L1716.0,2961.6 L1727.2,2965.9 L1738.2,2945.5 L1749.5,2919.7 L1760.7,2923.4 L1771.7,2988.6 L1782.9,2990.5 L1794.2,2992.9" fill="none" stroke="#048770" stroke-width="3.6" stroke-linejoin="miter" stroke-miterlimit="10"/>
<path d="M232.0,2922.4 L238.0,2866.8 L243.7,2939.8 L249.2,2965.5 L254.7,2907.0 L260.5,2953.4 L266.2,2904.1 L271.7,2971.3 L277.5,2897.0 L282.5,2948.1 L288.3,2938.1 L293.8,2958.8 L299.6,2820.8 L305.0,2959.9 L310.8,2982.0 L316.3,2958.1 L322.0,2872.5 L327.5,2913.6 L333.3,2910.6 L338.8,2875.6 L344.5,2919.5 L350.0,2799.4 L355.5,2622.3 L361.3,2692.0 L366.7,2745.2 L372.2,2959.2 L378.0,2893.4 L383.7,2846.4 L389.2,2882.7 L394.7,2906.4 L400.3,2967.1 L405.8,2912.4 L411.7,2888.2 L417.2,2971.3 L422.5,2938.1 L428.3,2938.5 L433.8,2925.5 L439.7,2956.4 L445.0,2886.3 L450.8,2917.8 L456.3,2868.5 L461.7,2972.3 L467.5,2938.5 L473.7,2941.0 L478.7,2881.5 L484.5,2858.5 L490.0,2893.4 L495.3,2925.5 L501.2,2950.5 L506.7,2908.8 L512.5,2892.2 L518.0,2885.0 L523.3,2945.7 L529.2,2917.1 L534.7,2887.4 L540.3,2837.5 L545.8,2931.0 L551.2,2918.4 L556.7,2913.6 L562.8,2904.1 L568.0,2993.3 L573.7,2970.6 L579.5,2969.1 L585.0,2978.5 L590.5,2994.5 L596.2,3004.0 L601.7,3017.0 L607.2,3019.4 L613.0,3014.1 L618.3,3027.7 L624.4,3028.0 L629.9,2992.0 L635.5,2960.6 L641.1,3059.2 L646.7,2866.8 L652.5,2894.6 L657.9,3009.0 L663.7,2906.4" fill="none" stroke="#1080ff" stroke-width="3.6" stroke-linejoin="miter" stroke-miterlimit="10"/>
<path d="M226.8,2735.8 L238.0,2674.1 L249.2,2612.8 L260.5,2533.6 L271.8,2540.7 L283.0,2505.8 L294.2,2734.1 L305.5,2787.6 L316.8,2968.4 L328.0,2934.5 L339.0,2916.0 L350.0,2968.4 L361.2,2871.4 L372.5,2876.7 L383.8,2828.6 L395.0,2754.4 L406.2,3032.6 L417.5,2678.1 L428.8,2804.3 L439.5,2913.5 L450.8,2903.5 L462.0,2968.4 L473.2,2988.4 L484.5,2982.0 L495.8,2949.9 L507.0,2934.9 L518.2,2963.4 L529.2,2988.4 L540.5,2987.3 L551.8,2942.7 L563.0,2949.9 L574.2,2999.8 L585.5,3026.6 L596.8,3043.0 L607.0,2972.0 L618.2,2957.7 L629.5,2956.3 L640.8,2955.2 L652.0,2957.0 L663.2,2982.0 L674.5,2975.6 L685.8,2965.9 L697.0,2967.7 L708.2,2968.4 L719.5,2980.2 L730.8,3017.6 L742.0,2970.2 L753.0,2918.8 L764.2,2943.4 L775.5,2961.6 L786.8,2980.9 L798.0,3017.6 L809.2,3037.3 L820.5,3041.9 L831.8,3008.7 L842.8,3012.3 L854.0,3026.6 L865.2,3009.4 L876.5,3017.6 L887.8,3001.6 L898.5,2833.9 L909.8,2853.6 L920.8,2958.8 L932.0,2976.6 L943.2,3003.4 L954.5,3021.2 L965.8,3003.7 L977.0,2990.9 L988.2,3004.1 L999.5,2957.7 L1010.8,2998.0 L1022.0,2964.9 L1033.2,2960.6 L1044.5,2956.3 L1055.2,3018.4 L1066.5,2998.0 L1077.8,3001.6 L1089.0,2980.2 L1100.2,3010.5 L1111.5,3002.3 L1122.8,2990.9 L1133.8,2930.2 L1145.0,2943.4 L1156.2,2951.7 L1167.5,2677.7 L1178.5,2795.8 L1189.5,2883.9 L1200.8,2873.2 L1212.0,2907.1 L1223.2,2983.8 L1234.5,3002.3 L1245.8,2858.9 L1257.0,2873.2 L1268.2,2684.1 L1279.5,2747.3 L1290.8,2749.0 L1301.5,2912.4 L1312.8,2894.6 L1324.0,2892.1 L1335.5,2958.8 L1346.8,2835.7 L1357.5,2950.6 L1368.8,2974.1 L1380.0,2991.6 L1391.2,3010.5 L1402.5,3008.0 L1413.8,2975.9 L1425.0,2958.8 L1436.2,2953.4 L1447.5,2984.8 L1458.2,3029.4 L1469.5,3025.8 L1480.8,3017.6 L1492.0,2990.2 L1503.0,2805.4 L1514.2,2829.7 L1525.5,2936.3 L1536.8,2807.9 L1548.0,2919.5 L1559.2,2919.5 L1570.5,2902.4 L1581.2,2977.7 L1592.5,2965.9 L1603.8,3025.5 L1615.0,2986.3 L1626.5,2971.5 L1637.5,2979.2 L1648.6,2996.2 L1659.9,2995.3 L1671.0,2974.1 L1682.1,2946.1 L1693.5,2933.2 L1704.5,2941.0 L1715.8,2952.5 L1726.9,2967.3 L1738.2,2987.6 L1749.4,2986.8 L1760.5,2985.6 L1771.8,2987.6 L1783.1,2959.1 L1794.4,2946.1" fill="none" stroke="#000080" stroke-width="3.6" stroke-linejoin="miter" stroke-miterlimit="10"/>
<path d="M226.8,2822.3 L232.6,2863.2 L235.1,3003.9 L236.5,3064.2 L251.6,3059.5 L268.6,3025.1 L284.9,2877.0 L290.4,2915.3 L294.1,2926.4 L297.0,2765.2 L298.9,2856.7 L301.4,2996.9 L303.8,2964.8 L312.3,2979.4 L316.4,2890.9 L319.6,2968.2 L322.7,3015.1 L328.1,2899.9 L332.2,3008.5 L335.4,2947.9 L339.5,2963.2 L345.8,3027.5 L352.4,3040.3 L358.9,3046.2 L366.5,3012.0 L373.0,3044.3 L379.1,2987.9 L382.7,2918.6 L387.6,2917.7 L390.0,3013.3 L392.9,2957.8 L395.4,2962.0 L397.8,2996.0 L399.7,2982.8 L402.2,3020.2 L409.5,2980.0 L414.3,2980.0 L421.6,3050.1 L432.0,3038.3 L441.0,3049.3 L447.1,3057.7 L456.0,3059.4 L464.5,3022.3 L472.5,3056.0 L480.0,3033.7 L489.0,3034.6 L498.0,3053.1 L504.5,3046.0 L510.5,3069.4 L520.0,3059.4 L528.5,3064.5 L537.0,3065.1 L545.0,3038.0 L550.0,3051.7 L555.0,3040.8 L560.0,3055.1 L564.0,3036.0 L569.5,2992.3 L576.0,3022.3 L583.5,3059.7 L588.5,3056.5 L592.5,3041.7 L598.5,3038.8 L604.0,3031.7 L609.0,3019.4 L614.5,3058.0 L620.0,3053.1 L625.5,3020.9 L631.5,3034.6 L636.5,3067.9 L649.0,3058.2 L661.0,3060.2 L674.0,3058.0 L686.0,3058.2 L699.0,3056.5 L712.5,3048.0 L730.0,3056.5 L755.0,3053.1 L779.0,3061.1 L804.0,3067.9 L830.0,3045.4 L861.0,3058.8 L901.0,3032.6 L925.0,3056.5 L945.0,3055.2 L962.5,2934.4 L970.8,2967.5 L977.0,2948.7 L983.0,2962.2 L989.2,2991.5 L995.5,2967.1 L1002.5,2941.5 L1008.8,2967.9 L1013.0,3029.3 L1020.0,3025.6 L1026.8,3019.9 L1032.5,3039.5 L1039.2,3041.7 L1045.5,3025.7 L1051.2,3042.7 L1057.5,3048.4 L1064.5,3066.7 L1071.2,3040.3 L1078.2,3057.8 L1088.0,3041.7 L1095.0,3021.0 L1100.0,3034.6 L1104.2,3047.4 L1110.0,3026.7 L1116.2,3023.8 L1125.5,3024.3 L1133.8,3053.5 L1140.5,3051.4 L1147.5,3012.7 L1154.2,3032.4 L1161.2,3048.1 L1167.5,3051.7 L1174.5,3062.4 L1180.8,3062.1 L1187.5,3041.7 L1193.8,3042.4 L1200.8,3042.1 L1207.5,3041.0 L1214.2,3027.7 L1220.8,3052.4 L1227.5,3041.4 L1234.5,3012.2 L1241.2,3041.0 L1247.5,3045.5 L1254.2,3033.1 L1260.8,3058.4 L1267.5,3049.1 L1276.2,3033.1 L1283.8,3034.3 L1291.8,3053.8 L1300.0,3046.3 L1308.0,3040.7 L1315.0,3007.0 L1325.5,3039.5 L1337.5,2999.3 L1339.5,3037.4 L1347.5,3033.8 L1355.0,3060.2 L1361.8,3038.1 L1368.0,3057.1 L1374.5,3045.3 L1381.2,3056.0 L1387.0,3063.8 L1393.8,3059.5 L1399.5,3060.9 L1405.5,3063.1 L1412.5,3058.1 L1418.8,3059.5 L1425.0,3037.4 L1428.8,3041.0 L1431.2,3044.5 L1433.8,2993.9 L1437.5,2996.3 L1440.8,2952.5 L1444.2,2925.0 L1447.5,3026.0 L1450.8,2987.5 L1453.8,2960.4 L1457.5,2866.2 L1460.8,2959.6 L1463.8,3001.0 L1470.8,3044.5 L1473.8,3008.9 L1477.5,3017.4 L1480.8,3004.6 L1483.2,3014.6 L1486.8,2802.7 L1490.5,2966.1 L1493.2,3045.3 L1496.2,3051.7 L1500.0,2986.0 L1503.2,3031.7 L1509.2,3075.9 L1512.5,3025.3 L1516.2,3051.7 L1519.5,3040.3 L1523.8,3018.9 L1528.8,3015.3 L1535.0,3014.6 L1539.2,3018.9 L1542.5,3027.4 L1546.2,3021.0 L1552.0,3025.3 L1558.8,3047.4 L1563.8,3038.1 L1567.5,3036.0 L1571.8,3011.7 L1580.0,3051.0 L1585.0,3034.6 L1587.5,3051.7 L1591.2,3033.8 L1596.2,3036.0 L1602.0,3053.8 L1607.5,3054.5 L1611.2,3056.7 L1616.2,3012.4 L1621.2,3018.1 L1626.2,3055.2 L1636.2,3051.7 L1641.2,3041.7 L1646.8,3022.4 L1652.2,3053.7 L1656.7,3038.4 L1661.9,3017.7 L1667.0,3009.6 L1672.2,3024.0 L1677.0,3031.4 L1681.9,3054.1 L1687.1,2931.6 L1692.3,2983.4 L1698.2,3018.9 L1707.1,2977.3 L1717.5,3032.7 L1727.1,3044.8 L1732.3,3050.1 L1741.9,3057.4 L1747.1,3057.9 L1753.0,3063.8 L1758.2,3064.2 L1761.9,3048.1 L1767.1,3047.3 L1773.1,3003.3 L1777.5,3046.2 L1782.7,3058.3 L1787.9,3048.1" fill="none" stroke="#f50000" stroke-width="3.6" stroke-linejoin="miter" stroke-miterlimit="10"/>
<path d="M227.5,2852.5 L238.8,2820.0 L259.2,2736.2 L272.5,2760.0 L282.5,2623.0 L293.0,2675.0 L306.2,2652.5 L316.2,2785.0 L327.5,2650.0 L350.0,2867.5 L361.2,2770.0 L372.5,2727.5 L383.8,2606.0 L395.0,2740.0 L406.2,2755.0 L417.5,2753.0 L428.8,2705.0 L438.8,2820.0 L451.2,2847.5 L460.5,2762.5 L473.8,2772.5 L483.8,2800.0 L495.0,2852.5 L506.2,2790.0 L517.5,2812.5 L529.2,2880.0 L540.0,2777.5 L550.0,2866.2 L562.5,2872.5 L573.8,2900.0 L592.5,2850.0 L597.8,2843.8 L607.8,2725.0 L619.0,2880.0 L630.2,2887.5 L641.0,2855.0 L652.8,2875.0 L663.5,2863.8 L675.2,2880.0 L685.2,2917.5 L697.0,2946.2 L709.0,2953.8 L719.8,2957.5 L731.0,2946.2 L741.5,2912.5 L752.8,2940.0 L764.0,2936.2 L775.8,2920.0 L786.5,2942.5 L797.8,2960.0 L809.0,2977.5 L820.2,2995.0 L831.5,2987.5 L842.8,2976.2 L854.0,2978.8 L865.2,2983.8 L876.5,2995.0 L887.2,2955.0 L898.5,2880.0 L909.0,2932.5 L921.0,2958.8 L932.8,2927.5 L944.0,2891.2 L954.0,2815.0 L966.0,2806.2 L977.0,2863.8 L988.2,2795.0 L999.5,2782.5 L1010.8,2850.0 L1022.0,2892.5 L1033.2,2917.5 L1044.5,2947.5 L1055.8,2962.5 L1066.5,2930.0 L1077.8,2926.2 L1089.0,2845.0 L1099.5,2752.5 L1110.8,2911.2 L1122.0,2920.0 L1134.0,2915.0 L1145.8,2903.8 L1156.5,2827.5 L1167.0,2852.5 L1178.2,2886.2 L1189.5,2910.0 L1201.5,2901.2 L1212.0,2846.2 L1224.0,2846.2 L1235.2,2787.5 L1245.8,2710.0 L1257.0,2752.5 L1268.2,2781.2 L1279.5,2710.0 L1290.8,2635.0 L1302.0,2742.5 L1313.2,2767.5 L1323.2,2815.0 L1335.8,2815.5 L1346.0,2820.0 L1357.8,2862.5 L1368.5,2825.0 L1379.8,2773.8 L1391.5,2756.2 L1402.2,2830.0 L1414.0,2882.5 L1424.8,2840.0 L1436.0,2757.5 L1447.2,2847.5 L1458.5,2895.0 L1469.8,2777.5 L1481.0,2800.0 L1491.5,2692.5 L1503.0,2717.5 L1514.8,2687.5 L1526.0,2655.0 L1537.2,2548.0 L1548.5,2702.5 L1559.8,2795.0 L1571.0,2785.0 L1582.2,2730.0 L1593.0,2682.5 L1603.5,2757.5 L1615.2,2712.5 L1626.8,2805.0 L1638.5,2777.5 L1649.0,2737.5 L1659.6,2689.9 L1671.1,2653.0 L1682.7,2632.2 L1693.1,2601.1 L1704.6,2575.7 L1715.0,2581.5 L1727.1,2606.9 L1738.0,2737.7 L1748.9,2768.1 L1772.1,2747.0 L1783.0,2592.5 L1792.2,2592.5 L1795.0,2560.7" fill="none" stroke="#000" stroke-width="7.3" stroke-linejoin="miter" stroke-miterlimit="10"/>
<line x1="227" y1="0" x2="227" y2="3077" stroke="#000" stroke-width="2"/>
<line x1="226" y1="2" x2="1811" y2="2" stroke="#000" stroke-width="2"/>
<line x1="194" y1="3076.5" x2="1796" y2="3076.5" stroke="#000" stroke-width="2"/>
<line x1="1795" y1="1" x2="1795" y2="618" stroke="#000" stroke-width="2"/>
<line x1="1795" y1="786" x2="1795" y2="3077" stroke="#000" stroke-width="2"/>
<path d="M194,1041.0H227 M211,979.5H227 M194,918.0H227 M211,856.5H227 M194,795.0H227 M211,733.5H227 M194,672.0H227 M211,610.5H227 M194,549.0H227 M211,487.5H227 M194,426.0H227 M194,1975.0H227 M211,1950.4H227 M211,1925.8H227 M211,1901.2H227 M211,1876.6H227 M194,1852.0H227 M211,1827.4H227 M211,1802.8H227 M211,1778.2H227 M211,1753.6H227 M194,1729.0H227 M211,1704.4H227 M211,1679.8H227 M211,1655.2H227 M211,1630.6H227 M194,1606.0H227 M211,1581.4H227 M211,1556.8H227 M211,1532.2H227 M211,1507.6H227 M194,1483.0H227 M211,1458.4H227 M211,1433.8H227 M211,1409.2H227 M211,1384.6H227 M194,1360.0H227 M194,3076.5H227 M211,3041.4H227 M211,3006.3H227 M211,2971.2H227 M211,2936.1H227 M194,2901.0H227 M211,2865.9H227 M211,2830.8H227 M211,2795.7H227 M211,2760.6H227 M194,2725.5H227 M211,2690.4H227 M211,2655.3H227 M211,2620.2H227 M211,2585.1H227 M194,2550.0H227 M211,2514.9H227 M211,2479.8H227 M211,2444.7H227 M211,2409.6H227 M194,2374.5H227 M211,2339.4H227 M211,2304.3H227 M211,2269.2H227 M211,2234.1H227 M194,2199.0H227 M1795,108.0H1828 M1795,214.0H1811 M1795,320.0H1828 M1795,426.0H1811 M1795,532.0H1828 M1795,1510.0H1828 M1795,1485.4H1811 M1795,1460.8H1811 M1795,1436.2H1811 M1795,1411.6H1811 M1795,1387.0H1828 M1795,1362.4H1811 M1795,1337.8H1811 M1795,1313.2H1811 M1795,1288.6H1811 M1795,1264.0H1828 M1795,1239.4H1811 M1795,1214.8H1811 M1795,1190.2H1811 M1795,1165.6H1811 M1795,1141.0H1828 M1795,1116.4H1811 M1795,1091.8H1811 M1795,1067.2H1811 M1795,1042.6H1811 M1795,1018.0H1828 M1795,993.4H1811 M1795,968.8H1811 M1795,944.2H1811 M1795,919.6H1811 M1795,895.0H1828 M1795,2439.5H1828 M1795,2414.9H1811 M1795,2390.3H1811 M1795,2365.7H1811 M1795,2341.1H1811 M1795,2316.5H1828 M1795,2291.9H1811 M1795,2267.3H1811 M1795,2242.7H1811 M1795,2218.1H1811 M1795,2193.5H1828 M1795,2168.9H1811 M1795,2144.3H1811 M1795,2119.7H1811 M1795,2095.1H1811 M1795,2070.5H1828 M1795,2045.9H1811 M1795,2021.3H1811 M1795,1996.7H1811 M1795,1972.1H1811 M1795,1947.5H1828 M1795,1922.9H1811 M1795,1898.3H1811 M1795,1873.7H1811 M1795,1849.1H1811 M1795,1824.5H1828 M227.0,3076V3110 M283.0,3076V3093 M339.0,3076V3093 M395.0,3076V3093 M451.0,3076V3093 M507.0,3076V3110 M563.0,3076V3093 M619.0,3076V3093 M675.0,3076V3093 M731.0,3076V3093 M787.0,3076V3110 M843.0,3076V3093 M899.0,3076V3093 M955.0,3076V3093 M1011.0,3076V3093 M1067.0,3076V3110 M1123.0,3076V3093 M1179.0,3076V3093 M1235.0,3076V3093 M1291.0,3076V3093 M1347.0,3076V3110 M1403.0,3076V3093 M1459.0,3076V3093 M1515.0,3076V3093 M1571.0,3076V3093 M1627.0,3076V3110 M1683.0,3076V3093 M1739.0,3076V3093 M1795.0,3076V3093" stroke="#000" stroke-width="2" fill="none"/>
<g font-family="Liberation Sans, sans-serif" font-size="50" fill="#000" stroke="#000" stroke-width="0.9"><text x="183" y="1059.0" text-anchor="end">0</text><text x="183" y="936.0" text-anchor="end">0.2</text><text x="183" y="813.0" text-anchor="end">0.4</text><text x="183" y="690.0" text-anchor="end">0.6</text><text x="183" y="567.0" text-anchor="end">0.8</text><text x="183" y="444.0" text-anchor="end">1.0</text><text x="183" y="1993.0" text-anchor="end">0</text><text x="183" y="1870.0" text-anchor="end">0.5</text><text x="183" y="1747.0" text-anchor="end">1.0</text><text x="183" y="1624.0" text-anchor="end">1.5</text><text x="183" y="1501.0" text-anchor="end">2.0</text><text x="183" y="1378.0" text-anchor="end">2.5</text><text x="183" y="3094.5" text-anchor="end">0</text><text x="183" y="2919.0" text-anchor="end">0.5</text><text x="183" y="2743.5" text-anchor="end">1.0</text><text x="183" y="2568.0" text-anchor="end">1.5</text><text x="183" y="2392.5" text-anchor="end">2.0</text><text x="183" y="2217.0" text-anchor="end">2.5</text><text x="1836" y="126.0">3</text><text x="1836" y="338.0">4</text><text x="1836" y="550.0">5</text><text x="1836" y="1528.0">0</text><text x="1836" y="1405.0">0.5</text><text x="1836" y="1282.0">1.0</text><text x="1836" y="1159.0">1.5</text><text x="1836" y="1036.0">2.0</text><text x="1836" y="913.0">2.5</text><text x="1836" y="2457.5">0</text><text x="1836" y="2334.5">0.5</text><text x="1836" y="2211.5">1.0</text><text x="1836" y="2088.5">1.5</text><text x="1836" y="1965.5">2.0</text><text x="1836" y="1842.5">2.5</text><text x="227.0" y="3157" text-anchor="middle">0</text><text x="507.0" y="3157" text-anchor="middle">50</text><text x="787.0" y="3157" text-anchor="middle">100</text><text x="1067.0" y="3157" text-anchor="middle">150</text><text x="1347.0" y="3157" text-anchor="middle">200</text><text x="1627.0" y="3157" text-anchor="middle">250</text><text x="1010.5" y="3232" text-anchor="middle">Age (ka)</text><text x="119" y="47.2">MIS</text><text x="345" y="47.5" text-anchor="middle">2</text><text x="598.5" y="47.5" text-anchor="middle">4</text><text x="1110.4" y="47.5" text-anchor="middle">6</text><text x="1681.5" y="47.5" text-anchor="middle">8</text><text transform="translate(49.2,1092) rotate(-90)"><tspan font-weight="bold">b</tspan>: NoMAR MD12-3412 (g/m<tspan font-size="36" dy="-22">2</tspan><tspan dy="22">/yr)</tspan></text><text transform="translate(49.2,1969) rotate(-90)"><tspan font-weight="bold">d</tspan>: NoMAR U1448 (g/m<tspan font-size="36" dy="-22">2</tspan><tspan dy="22">/yr)</tspan></text><text transform="translate(49.2,2928.5) rotate(-90)" xml:space="preserve"><tspan font-weight="bold">f</tspan>: NoMAR Stack  (g/m<tspan font-size="36" dy="-22">2</tspan><tspan dy="22">/yr)</tspan></text><text transform="translate(1970.9,20.8) rotate(90)"><tspan font-weight="bold">a</tspan>: Benthic δ<tspan font-size="36" dy="-22" dx="4">18</tspan><tspan dy="22" dx="1">O stack (‰)</tspan></text><text transform="translate(1970.9,902.6) rotate(90)"><tspan font-weight="bold">c</tspan>: NoMAR U1446 (g/m<tspan font-size="36" dy="-22">2</tspan><tspan dy="22">/yr)</tspan></text><text transform="translate(1970.9,1832) rotate(90)"><tspan font-weight="bold">e</tspan>: NoMAR U1443 (g/m<tspan font-size="36" dy="-22">2</tspan><tspan dy="22">/yr)</tspan></text></g></svg></body></html>
